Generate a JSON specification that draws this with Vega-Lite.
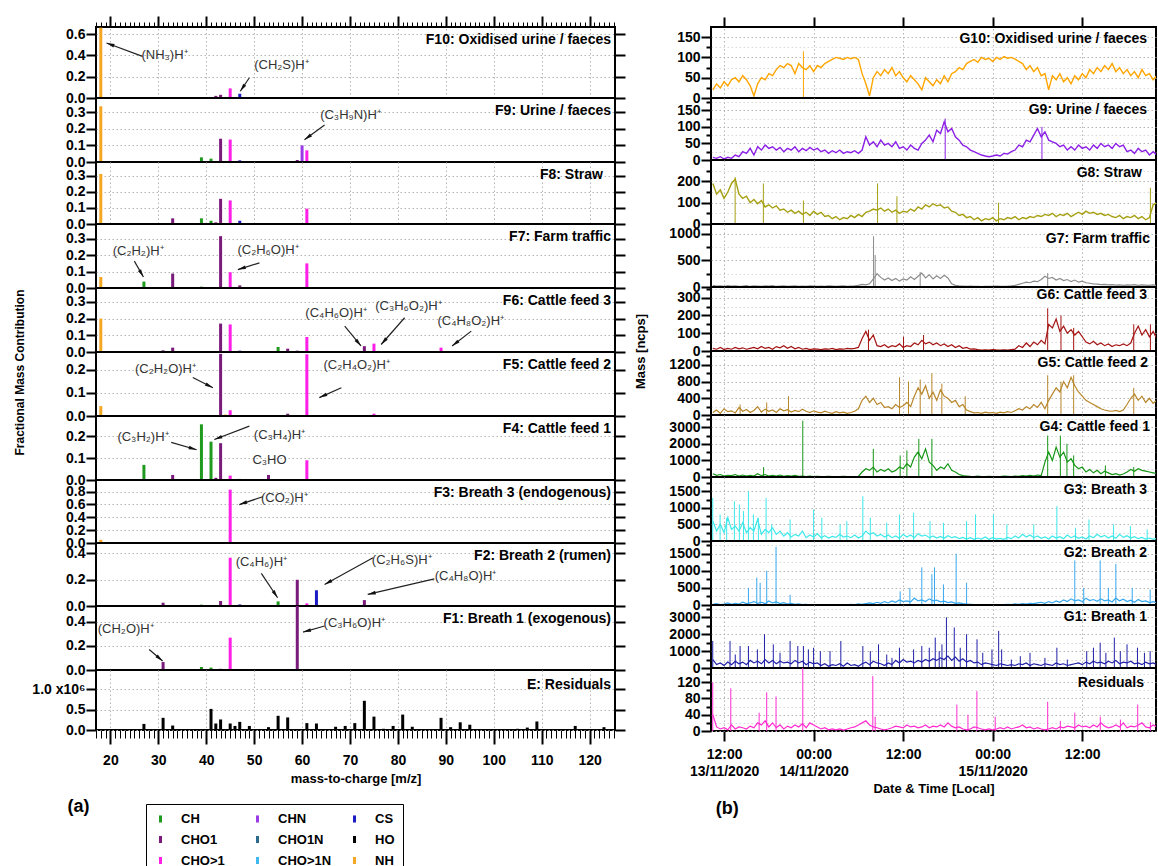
{
  "$schema": "https://vega.github.io/schema/vega-lite/v6.json",
  "background": "white",
  "padding": {"left": 12, "top": 14, "right": 0, "bottom": 0},
  "config": {
    "font": "Liberation Sans",
    "view": {"stroke": "black", "strokeWidth": 2},
    "axis": {
      "domain": false, "labelFont": "Liberation Sans", "labelFontSize": 14, "labelFontWeight": "bold",
      "labelColor": "#000", "tickColor": "#000", "tickWidth": 2, "tickSize": 10, "labelPadding": 1,
      "labelFlush": false, "labelOverlap": false, "gridColor": "#b4b4b4", "gridDash": [1.5, 2.5], "gridWidth": 1,
      "titleFont": "Liberation Sans", "titleFontWeight": "bold", "titleFontSize": 13, "titleColor": "#000"
    },
    "text": {"font": "Liberation Sans"}
  },
  "datasets": {
    "ms": [
      {"p":"F10","mz":18,"c":"NH","v":0.66},{"p":"F10","mz":39,"c":"CH","v":0.005},{"p":"F10","mz":42,"c":"CHO1","v":0.02},{"p":"F10","mz":43,"c":"CHO1","v":0.03},{"p":"F10","mz":45,"c":"CHO>1","v":0.09},{"p":"F10","mz":47,"c":"CS","v":0.04},{"p":"F10","mz":61,"c":"CHO>1","v":0.008},
      {"p":"F9","mz":18,"c":"NH","v":0.335},{"p":"F9","mz":39,"c":"CH","v":0.028},{"p":"F9","mz":41,"c":"CH","v":0.02},{"p":"F9","mz":43,"c":"CHO1","v":0.14},{"p":"F9","mz":45,"c":"CHO>1","v":0.135},{"p":"F9","mz":47,"c":"CS","v":0.01},{"p":"F9","mz":59,"c":"CHO1","v":0.012},{"p":"F9","mz":60,"c":"CHN","v":0.1},{"p":"F9","mz":61,"c":"CHO>1","v":0.07},
      {"p":"F8","mz":18,"c":"NH","v":0.31},{"p":"F8","mz":27,"c":"CH","v":0.004},{"p":"F8","mz":33,"c":"CHO1","v":0.035},{"p":"F8","mz":39,"c":"CH","v":0.035},{"p":"F8","mz":41,"c":"CH","v":0.02},{"p":"F8","mz":42,"c":"CHO1","v":0.01},{"p":"F8","mz":43,"c":"CHO1","v":0.156},{"p":"F8","mz":45,"c":"CHO>1","v":0.146},{"p":"F8","mz":47,"c":"CS","v":0.02},{"p":"F8","mz":59,"c":"CHO1","v":0.006},{"p":"F8","mz":61,"c":"CHO>1","v":0.095},
      {"p":"F7","mz":18,"c":"NH","v":0.067},{"p":"F7","mz":27,"c":"CH","v":0.039},{"p":"F7","mz":33,"c":"CHO1","v":0.088},{"p":"F7","mz":39,"c":"CH","v":0.008},{"p":"F7","mz":41,"c":"CH","v":0.004},{"p":"F7","mz":43,"c":"CHO1","v":0.316},{"p":"F7","mz":45,"c":"CHO>1","v":0.096},{"p":"F7","mz":47,"c":"CHO1","v":0.016},{"p":"F7","mz":59,"c":"CHO1","v":0.005},{"p":"F7","mz":61,"c":"CHO>1","v":0.15},
      {"p":"F6","mz":18,"c":"NH","v":0.2},{"p":"F6","mz":31,"c":"CHO1","v":0.01},{"p":"F6","mz":33,"c":"CHO1","v":0.026},{"p":"F6","mz":39,"c":"CH","v":0.004},{"p":"F6","mz":43,"c":"CHO1","v":0.17},{"p":"F6","mz":45,"c":"CHO>1","v":0.165},{"p":"F6","mz":47,"c":"CS","v":0.008},{"p":"F6","mz":55,"c":"CH","v":0.03},{"p":"F6","mz":57,"c":"CHO1","v":0.02},{"p":"F6","mz":59,"c":"CHO1","v":0.008},{"p":"F6","mz":61,"c":"CHO>1","v":0.09},{"p":"F6","mz":71,"c":"CHO1","v":0.005},{"p":"F6","mz":73,"c":"CHO1","v":0.035},{"p":"F6","mz":75,"c":"CHO>1","v":0.05},{"p":"F6","mz":89,"c":"CHO>1","v":0.026},
      {"p":"F5","mz":18,"c":"NH","v":0.043},{"p":"F5","mz":43,"c":"CHO1","v":0.27},{"p":"F5","mz":44,"c":"NH","v":0.006},{"p":"F5","mz":45,"c":"CHO>1","v":0.025},{"p":"F5","mz":57,"c":"CHO1","v":0.01},{"p":"F5","mz":61,"c":"CHO>1","v":0.268},{"p":"F5","mz":62,"c":"CHO1","v":0.003},{"p":"F5","mz":75,"c":"CHO>1","v":0.01},
      {"p":"F4","mz":27,"c":"CH","v":0.069},{"p":"F4","mz":33,"c":"CHO1","v":0.023},{"p":"F4","mz":39,"c":"CH","v":0.254},{"p":"F4","mz":41,"c":"CH","v":0.175},{"p":"F4","mz":42,"c":"CHO1","v":0.01},{"p":"F4","mz":43,"c":"CHO1","v":0.168},{"p":"F4","mz":45,"c":"CHO>1","v":0.02},{"p":"F4","mz":47,"c":"CHO1","v":0.005},{"p":"F4","mz":53,"c":"CHO1","v":0.023},{"p":"F4","mz":61,"c":"CHO>1","v":0.09},{"p":"F4","mz":75,"c":"CHO>1","v":0.004},
      {"p":"F3","mz":18,"c":"NH","v":0.05},{"p":"F3","mz":45,"c":"CHO>1","v":0.83},
      {"p":"F2","mz":31,"c":"CHO1","v":0.025},{"p":"F2","mz":39,"c":"CH","v":0.01},{"p":"F2","mz":43,"c":"CHO1","v":0.038},{"p":"F2","mz":45,"c":"CHO>1","v":0.368},{"p":"F2","mz":47,"c":"CS","v":0.012},{"p":"F2","mz":55,"c":"CH","v":0.035},{"p":"F2","mz":59,"c":"CHO1","v":0.2},{"p":"F2","mz":61,"c":"CHO>1","v":0.02},{"p":"F2","mz":63,"c":"CS","v":0.12},{"p":"F2","mz":73,"c":"CHO1","v":0.045},
      {"p":"F1","mz":31,"c":"CHO1","v":0.066},{"p":"F1","mz":39,"c":"CH","v":0.025},{"p":"F1","mz":41,"c":"CH","v":0.02},{"p":"F1","mz":43,"c":"CHO1","v":0.01},{"p":"F1","mz":45,"c":"CHO>1","v":0.268},{"p":"F1","mz":55,"c":"CH","v":0.004},{"p":"F1","mz":59,"c":"CHO1","v":0.6},{"p":"F1","mz":73,"c":"CHO1","v":0.004},
      {"p":"E","mz":27,"c":"HO","v":150000},{"p":"E","mz":31,"c":"HO","v":300000},{"p":"E","mz":33,"c":"HO","v":110000},{"p":"E","mz":38,"c":"HO","v":10000},{"p":"E","mz":41,"c":"HO","v":520000},{"p":"E","mz":42,"c":"HO","v":160000},{"p":"E","mz":43,"c":"HO","v":260000},{"p":"E","mz":45,"c":"HO","v":160000},{"p":"E","mz":46,"c":"HO","v":100000},{"p":"E","mz":47,"c":"HO","v":200000},{"p":"E","mz":49,"c":"HO","v":100000},{"p":"E","mz":53,"c":"HO","v":70000},{"p":"E","mz":55,"c":"HO","v":350000},{"p":"E","mz":57,"c":"HO","v":310000},{"p":"E","mz":61,"c":"HO","v":170000},{"p":"E","mz":63,"c":"HO","v":160000},{"p":"E","mz":67,"c":"HO","v":80000},{"p":"E","mz":69,"c":"HO","v":100000},{"p":"E","mz":71,"c":"HO","v":170000},{"p":"E","mz":73,"c":"HO","v":720000},{"p":"E","mz":75,"c":"HO","v":330000},{"p":"E","mz":77,"c":"HO","v":30000},{"p":"E","mz":79,"c":"HO","v":100000},{"p":"E","mz":81,"c":"HO","v":380000},{"p":"E","mz":83,"c":"HO","v":80000},{"p":"E","mz":89,"c":"HO","v":300000},{"p":"E","mz":91,"c":"HO","v":70000},{"p":"E","mz":93,"c":"HO","v":190000},{"p":"E","mz":95,"c":"HO","v":130000},{"p":"E","mz":105,"c":"HO","v":30000},{"p":"E","mz":107,"c":"HO","v":60000},{"p":"E","mz":109,"c":"HO","v":210000},{"p":"E","mz":117,"c":"HO","v":100000},{"p":"E","mz":123,"c":"HO","v":70000}
    ],
    "ann": [
      {"p":"F10","lab":"(NH₃)H⁺","tx":31.3,"ty":0.404,"x":26.7,"y":0.39,"x2":19.2,"y2":0.516},
      {"p":"F10","lab":"(CH₂S)H⁺","tx":55.7,"ty":0.31,"x":49,"y":0.19,"x2":47.1,"y2":0.063},
      {"p":"F9","lab":"(C₃H₉N)H⁺","tx":70.1,"ty":0.28,"x":64.7,"y":0.223,"x2":60.5,"y2":0.134},
      {"p":"F7","lab":"(C₂H₂)H⁺","tx":25.8,"ty":0.227,"x":25,"y":0.164,"x2":26.9,"y2":0.067},
      {"p":"F7","lab":"(C₂H₆O)H⁺","tx":52.9,"ty":0.233,"x":51.1,"y":0.153,"x2":46.6,"y2":0.112},
      {"p":"F6","lab":"(C₄H₆O)H⁺","tx":67.1,"ty":0.234,"x":68.9,"y":0.155,"x2":72.3,"y2":0.036},
      {"p":"F6","lab":"(C₃H₆O₂)H⁺","tx":82.2,"ty":0.276,"x":81.4,"y":0.205,"x2":76.5,"y2":0.045},
      {"p":"F6","lab":"(C₄H₈O₂)H⁺","tx":95.2,"ty":0.186,"x":95.3,"y":0.125,"x2":91.3,"y2":0.036},
      {"p":"F5","lab":"(C₂H₂O)H⁺","tx":31.5,"ty":0.206,"x":37.2,"y":0.167,"x2":41.4,"y2":0.123},
      {"p":"F5","lab":"(C₂H₄O₂)H⁺","tx":71.4,"ty":0.223,"x":68.2,"y":0.123,"x2":63.6,"y2":0.08},
      {"p":"F4","lab":"(C₃H₂)H⁺","tx":26.8,"ty":0.197,"x":32.7,"y":0.172,"x2":38,"y2":0.138},
      {"p":"F4","lab":"(C₃H₄)H⁺","tx":55.3,"ty":0.206,"x":49,"y":0.246,"x2":41.7,"y2":0.185},
      {"p":"F4","lab":"C₃HO","tx":53.2,"ty":0.09},
      {"p":"F3","lab":"(CO₂)H⁺","tx":56.3,"ty":0.7,"x":51.8,"y":0.72,"x2":46.9,"y2":0.597},
      {"p":"F2","lab":"(C₄H₆)H⁺","tx":51.5,"ty":0.337,"x":51.5,"y":0.248,"x2":54.9,"y2":0.063},
      {"p":"F2","lab":"(C₂H₆S)H⁺","tx":80.8,"ty":0.352,"x":74.8,"y":0.367,"x2":64.7,"y2":0.164},
      {"p":"F2","lab":"(C₄H₈O)H⁺","tx":94.1,"ty":0.23,"x":87.6,"y":0.207,"x2":73.7,"y2":0.088},
      {"p":"F1","lab":"(CH₂O)H⁺","tx":23.2,"ty":0.34,"x":28.1,"y":0.17,"x2":30.9,"y2":0.074},
      {"p":"F1","lab":"(C₃H₆O)H⁺","tx":70.9,"ty":0.39,"x":64.7,"y":0.364,"x2":60.2,"y2":0.314}
    ],
    "ts": [
      {"t":"2020-11-13T10:30","G10":20,"G9":8,"G8":190,"G7":30,"G6":15,"G5":60,"G4":200,"G3":600,"G2":20,"G1":500,"R":40},
      {"t":"2020-11-13T11:00","G10":35,"G9":5,"G8":140,"G7":15,"G6":10,"G5":120,"G4":100,"G3":300,"G2":40,"G1":200,"R":10},
      {"t":"2020-11-13T11:30","G10":25,"G9":10,"G8":160,"G7":20,"G6":20,"G5":40,"G4":150,"G3":500,"G2":15,"G1":300,"R":5},
      {"t":"2020-11-13T12:00","G10":40,"G9":3,"G8":120,"G7":10,"G6":8,"G5":150,"G4":50,"G3":250,"G2":30,"G1":150,"R":8},
      {"t":"2020-11-13T12:30","G10":30,"G9":8,"G8":150,"G7":25,"G6":15,"G5":80,"G4":100,"G3":700,"G2":60,"G1":350,"R":3},
      {"t":"2020-11-13T13:00","G10":45,"G9":5,"G8":190,"G7":15,"G6":10,"G5":100,"G4":80,"G3":350,"G2":20,"G1":200,"R":15},
      {"t":"2020-11-13T13:30","G10":50,"G9":15,"G8":210,"G7":20,"G6":20,"G5":50,"G4":150,"G3":450,"G2":50,"G1":400,"R":5},
      {"t":"2020-11-13T14:00","G10":40,"G9":10,"G8":140,"G7":10,"G6":12,"G5":180,"G4":60,"G3":300,"G2":30,"G1":250,"R":10},
      {"t":"2020-11-13T14:30","G10":55,"G9":25,"G8":120,"G7":15,"G6":18,"G5":90,"G4":120,"G3":550,"G2":80,"G1":350,"R":8},
      {"t":"2020-11-13T15:00","G10":45,"G9":20,"G8":130,"G7":25,"G6":10,"G5":130,"G4":50,"G3":250,"G2":40,"G1":200,"R":5},
      {"t":"2020-11-13T15:30","G10":30,"G9":35,"G8":100,"G7":10,"G6":15,"G5":60,"G4":100,"G3":400,"G2":60,"G1":450,"R":12},
      {"t":"2020-11-13T16:00","G10":5,"G9":15,"G8":115,"G7":20,"G6":20,"G5":110,"G4":60,"G3":300,"G2":100,"G1":300,"R":8},
      {"t":"2020-11-13T16:30","G10":35,"G9":40,"G8":95,"G7":15,"G6":12,"G5":200,"G4":200,"G3":650,"G2":50,"G1":400,"R":20},
      {"t":"2020-11-13T17:00","G10":50,"G9":30,"G8":110,"G7":10,"G6":25,"G5":70,"G4":80,"G3":200,"G2":80,"G1":250,"R":15},
      {"t":"2020-11-13T17:30","G10":45,"G9":45,"G8":80,"G7":20,"G6":15,"G5":140,"G4":150,"G3":350,"G2":40,"G1":500,"R":25},
      {"t":"2020-11-13T18:00","G10":60,"G9":35,"G8":90,"G7":15,"G6":20,"G5":90,"G4":60,"G3":250,"G2":120,"G1":300,"R":10},
      {"t":"2020-11-13T18:30","G10":55,"G9":40,"G8":75,"G7":25,"G6":10,"G5":120,"G4":100,"G3":400,"G2":60,"G1":450,"R":20},
      {"t":"2020-11-13T19:00","G10":70,"G9":30,"G8":85,"G7":10,"G6":25,"G5":60,"G4":50,"G3":200,"G2":90,"G1":250,"R":8},
      {"t":"2020-11-13T19:30","G10":80,"G9":38,"G8":65,"G7":15,"G6":18,"G5":150,"G4":120,"G3":300,"G2":40,"G1":400,"R":15},
      {"t":"2020-11-13T20:00","G10":75,"G9":25,"G8":70,"G7":20,"G6":30,"G5":100,"G4":40,"G3":150,"G2":70,"G1":300,"R":5},
      {"t":"2020-11-13T20:30","G10":85,"G9":35,"G8":55,"G7":10,"G6":15,"G5":130,"G4":80,"G3":250,"G2":30,"G1":350,"R":12},
      {"t":"2020-11-13T21:00","G10":80,"G9":30,"G8":65,"G7":15,"G6":25,"G5":70,"G4":60,"G3":120,"G2":50,"G1":250,"R":8},
      {"t":"2020-11-13T21:30","G10":60,"G9":40,"G8":50,"G7":20,"G6":12,"G5":110,"G4":100,"G3":200,"G2":20,"G1":450,"R":15},
      {"t":"2020-11-13T22:00","G10":85,"G9":25,"G8":60,"G7":10,"G6":20,"G5":80,"G4":40,"G3":150,"G2":30,"G1":300,"R":10},
      {"t":"2020-11-13T22:30","G10":75,"G9":35,"G8":45,"G7":15,"G6":10,"G5":140,"G4":60,"G3":300,"G2":10,"G1":400,"R":18},
      {"t":"2020-11-13T23:00","G10":70,"G9":28,"G8":55,"G7":10,"G6":15,"G5":90,"G4":30,"G3":100,"G2":20,"G1":200,"R":8},
      {"t":"2020-11-13T23:30","G10":80,"G9":38,"G8":40,"G7":20,"G6":8,"G5":60,"G4":50,"G3":180,"G2":5,"G1":350,"R":20},
      {"t":"2020-11-14T00:00","G10":65,"G9":30,"G8":60,"G7":15,"G6":12,"G5":100,"G4":20,"G3":120,"G2":15,"G1":250,"R":15},
      {"t":"2020-11-14T00:30","G10":80,"G9":35,"G8":45,"G7":10,"G6":10,"G5":70,"G4":40,"G3":220,"G2":5,"G1":300,"R":10},
      {"t":"2020-11-14T01:00","G10":75,"G9":25,"G8":55,"G7":15,"G6":8,"G5":50,"G4":30,"G3":100,"G2":10,"G1":150,"R":5},
      {"t":"2020-11-14T01:30","G10":85,"G9":30,"G8":35,"G7":10,"G6":12,"G5":90,"G4":20,"G3":160,"G2":5,"G1":250,"R":8},
      {"t":"2020-11-14T02:00","G10":90,"G9":20,"G8":40,"G7":20,"G6":10,"G5":60,"G4":40,"G3":90,"G2":10,"G1":100,"R":3},
      {"t":"2020-11-14T02:30","G10":95,"G9":28,"G8":25,"G7":15,"G6":15,"G5":40,"G4":20,"G3":140,"G2":5,"G1":200,"R":5},
      {"t":"2020-11-14T03:00","G10":100,"G9":22,"G8":35,"G7":10,"G6":8,"G5":80,"G4":30,"G3":110,"G2":15,"G1":150,"R":3},
      {"t":"2020-11-14T03:30","G10":98,"G9":30,"G8":20,"G7":15,"G6":12,"G5":50,"G4":20,"G3":200,"G2":5,"G1":250,"R":5},
      {"t":"2020-11-14T04:00","G10":95,"G9":20,"G8":30,"G7":20,"G6":10,"G5":70,"G4":40,"G3":120,"G2":10,"G1":100,"R":2},
      {"t":"2020-11-14T04:30","G10":100,"G9":25,"G8":25,"G7":10,"G6":15,"G5":40,"G4":20,"G3":150,"G2":5,"G1":300,"R":5},
      {"t":"2020-11-14T05:00","G10":97,"G9":22,"G8":40,"G7":15,"G6":12,"G5":60,"G4":30,"G3":100,"G2":20,"G1":150,"R":8},
      {"t":"2020-11-14T05:30","G10":100,"G9":28,"G8":30,"G7":20,"G6":15,"G5":90,"G4":20,"G3":180,"G2":10,"G1":200,"R":10},
      {"t":"2020-11-14T06:00","G10":95,"G9":20,"G8":45,"G7":30,"G6":20,"G5":150,"G4":40,"G3":90,"G2":30,"G1":100,"R":15},
      {"t":"2020-11-14T06:30","G10":60,"G9":30,"G8":35,"G7":50,"G6":70,"G5":350,"G4":300,"G3":150,"G2":20,"G1":250,"R":20},
      {"t":"2020-11-14T07:00","G10":35,"G9":70,"G8":55,"G7":40,"G6":110,"G5":450,"G4":500,"G3":300,"G2":40,"G1":350,"R":25},
      {"t":"2020-11-14T07:30","G10":5,"G9":45,"G8":60,"G7":60,"G6":60,"G5":300,"G4":400,"G3":200,"G2":60,"G1":200,"R":15},
      {"t":"2020-11-14T08:00","G10":50,"G9":55,"G8":70,"G7":150,"G6":90,"G5":400,"G4":600,"G3":250,"G2":40,"G1":400,"R":10},
      {"t":"2020-11-14T08:30","G10":65,"G9":40,"G8":65,"G7":250,"G6":30,"G5":250,"G4":300,"G3":150,"G2":80,"G1":300,"R":8},
      {"t":"2020-11-14T09:00","G10":55,"G9":60,"G8":75,"G7":180,"G6":25,"G5":300,"G4":450,"G3":200,"G2":50,"G1":250,"R":5},
      {"t":"2020-11-14T09:30","G10":70,"G9":45,"G8":60,"G7":130,"G6":35,"G5":180,"G4":350,"G3":120,"G2":100,"G1":150,"R":3},
      {"t":"2020-11-14T10:00","G10":60,"G9":50,"G8":70,"G7":170,"G6":20,"G5":200,"G4":500,"G3":180,"G2":60,"G1":300,"R":5},
      {"t":"2020-11-14T10:30","G10":75,"G9":40,"G8":55,"G7":120,"G6":30,"G5":150,"G4":300,"G3":100,"G2":120,"G1":200,"R":8},
      {"t":"2020-11-14T11:00","G10":55,"G9":55,"G8":65,"G7":160,"G6":25,"G5":250,"G4":400,"G3":150,"G2":80,"G1":450,"R":12},
      {"t":"2020-11-14T11:30","G10":65,"G9":35,"G8":50,"G7":110,"G6":40,"G5":180,"G4":600,"G3":80,"G2":150,"G1":300,"R":10},
      {"t":"2020-11-14T12:00","G10":50,"G9":40,"G8":60,"G7":150,"G6":20,"G5":220,"G4":500,"G3":200,"G2":100,"G1":500,"R":8},
      {"t":"2020-11-14T12:30","G10":40,"G9":30,"G8":55,"G7":130,"G6":30,"G5":300,"G4":800,"G3":120,"G2":120,"G1":350,"R":15},
      {"t":"2020-11-14T13:00","G10":55,"G9":45,"G8":70,"G7":190,"G6":25,"G5":200,"G4":600,"G3":180,"G2":90,"G1":400,"R":10},
      {"t":"2020-11-14T13:30","G10":45,"G9":35,"G8":60,"G7":140,"G6":45,"G5":450,"G4":1200,"G3":100,"G2":200,"G1":300,"R":12},
      {"t":"2020-11-14T14:00","G10":35,"G9":30,"G8":80,"G7":200,"G6":35,"G5":650,"G4":1500,"G3":220,"G2":120,"G1":450,"R":8},
      {"t":"2020-11-14T14:30","G10":20,"G9":50,"G8":70,"G7":260,"G6":60,"G5":500,"G4":1100,"G3":150,"G2":150,"G1":350,"R":10},
      {"t":"2020-11-14T15:00","G10":50,"G9":60,"G8":90,"G7":170,"G6":40,"G5":700,"G4":1700,"G3":180,"G2":100,"G1":500,"R":15},
      {"t":"2020-11-14T15:30","G10":40,"G9":75,"G8":80,"G7":230,"G6":50,"G5":400,"G4":900,"G3":100,"G2":180,"G1":400,"R":8},
      {"t":"2020-11-14T16:00","G10":30,"G9":55,"G8":95,"G7":150,"G6":35,"G5":550,"G4":700,"G3":150,"G2":120,"G1":550,"R":12},
      {"t":"2020-11-14T16:30","G10":45,"G9":90,"G8":85,"G7":210,"G6":45,"G5":350,"G4":400,"G3":90,"G2":140,"G1":450,"R":10},
      {"t":"2020-11-14T17:00","G10":35,"G9":80,"G8":90,"G7":160,"G6":30,"G5":600,"G4":600,"G3":140,"G2":90,"G1":600,"R":15},
      {"t":"2020-11-14T17:30","G10":55,"G9":115,"G8":75,"G7":220,"G6":40,"G5":450,"G4":500,"G3":80,"G2":110,"G1":500,"R":10},
      {"t":"2020-11-14T18:00","G10":40,"G9":85,"G8":80,"G7":170,"G6":25,"G5":400,"G4":800,"G3":160,"G2":70,"G1":700,"R":20},
      {"t":"2020-11-14T18:30","G10":60,"G9":95,"G8":60,"G7":60,"G6":35,"G5":300,"G4":400,"G3":100,"G2":90,"G1":450,"R":12},
      {"t":"2020-11-14T19:00","G10":65,"G9":70,"G8":55,"G7":30,"G6":20,"G5":350,"G4":300,"G3":130,"G2":50,"G1":650,"R":8},
      {"t":"2020-11-14T19:30","G10":75,"G9":60,"G8":40,"G7":20,"G6":30,"G5":200,"G4":150,"G3":70,"G2":60,"G1":400,"R":10},
      {"t":"2020-11-14T20:00","G10":70,"G9":45,"G8":45,"G7":15,"G6":15,"G5":250,"G4":80,"G3":110,"G2":40,"G1":550,"R":5},
      {"t":"2020-11-14T20:30","G10":85,"G9":40,"G8":30,"G7":10,"G6":20,"G5":120,"G4":60,"G3":60,"G2":30,"G1":350,"R":3},
      {"t":"2020-11-14T21:00","G10":90,"G9":30,"G8":35,"G7":15,"G6":10,"G5":80,"G4":40,"G3":100,"G2":20,"G1":450,"R":5},
      {"t":"2020-11-14T21:30","G10":95,"G9":25,"G8":20,"G7":10,"G6":12,"G5":50,"G4":30,"G3":50,"G2":10,"G1":300,"R":10},
      {"t":"2020-11-14T22:00","G10":88,"G9":20,"G8":30,"G7":12,"G6":8,"G5":60,"G4":50,"G3":90,"G2":15,"G1":350,"R":8},
      {"t":"2020-11-14T22:30","G10":100,"G9":15,"G8":15,"G7":8,"G6":5,"G5":40,"G4":30,"G3":60,"G2":5,"G1":200,"R":5},
      {"t":"2020-11-14T23:00","G10":95,"G9":12,"G8":25,"G7":10,"G6":7,"G5":70,"G4":20,"G3":120,"G2":10,"G1":300,"R":3},
      {"t":"2020-11-14T23:30","G10":98,"G9":10,"G8":20,"G7":12,"G6":5,"G5":50,"G4":40,"G3":50,"G2":5,"G1":250,"R":5},
      {"t":"2020-11-15T00:00","G10":90,"G9":12,"G8":30,"G7":10,"G6":8,"G5":60,"G4":30,"G3":100,"G2":10,"G1":200,"R":3},
      {"t":"2020-11-15T00:30","G10":100,"G9":15,"G8":15,"G7":15,"G6":6,"G5":40,"G4":20,"G3":60,"G2":5,"G1":150,"R":5},
      {"t":"2020-11-15T01:00","G10":95,"G9":12,"G8":25,"G7":10,"G6":5,"G5":70,"G4":30,"G3":80,"G2":15,"G1":250,"R":8},
      {"t":"2020-11-15T01:30","G10":102,"G9":20,"G8":20,"G7":12,"G6":7,"G5":50,"G4":50,"G3":50,"G2":10,"G1":200,"R":5},
      {"t":"2020-11-15T02:00","G10":98,"G9":18,"G8":30,"G7":15,"G6":5,"G5":80,"G4":40,"G3":110,"G2":20,"G1":150,"R":10},
      {"t":"2020-11-15T02:30","G10":100,"G9":25,"G8":25,"G7":20,"G6":8,"G5":60,"G4":30,"G3":70,"G2":15,"G1":200,"R":5},
      {"t":"2020-11-15T03:00","G10":96,"G9":30,"G8":35,"G7":30,"G6":10,"G5":100,"G4":60,"G3":150,"G2":30,"G1":150,"R":8},
      {"t":"2020-11-15T03:30","G10":90,"G9":45,"G8":20,"G7":50,"G6":30,"G5":150,"G4":40,"G3":90,"G2":20,"G1":250,"R":10},
      {"t":"2020-11-15T04:00","G10":85,"G9":40,"G8":30,"G7":70,"G6":20,"G5":120,"G4":80,"G3":200,"G2":40,"G1":200,"R":15},
      {"t":"2020-11-15T04:30","G10":70,"G9":60,"G8":25,"G7":90,"G6":45,"G5":200,"G4":50,"G3":120,"G2":30,"G1":300,"R":8},
      {"t":"2020-11-15T05:00","G10":80,"G9":55,"G8":35,"G7":80,"G6":25,"G5":150,"G4":100,"G3":180,"G2":50,"G1":150,"R":10},
      {"t":"2020-11-15T05:30","G10":65,"G9":75,"G8":30,"G7":110,"G6":50,"G5":250,"G4":60,"G3":100,"G2":40,"G1":250,"R":5},
      {"t":"2020-11-15T06:00","G10":75,"G9":95,"G8":40,"G7":100,"G6":35,"G5":180,"G4":120,"G3":150,"G2":60,"G1":200,"R":8},
      {"t":"2020-11-15T06:30","G10":55,"G9":70,"G8":35,"G7":140,"G6":60,"G5":300,"G4":80,"G3":80,"G2":80,"G1":150,"R":5},
      {"t":"2020-11-15T07:00","G10":60,"G9":85,"G8":45,"G7":200,"G6":40,"G5":150,"G4":900,"G3":120,"G2":50,"G1":250,"R":3},
      {"t":"2020-11-15T07:30","G10":20,"G9":60,"G8":40,"G7":160,"G6":150,"G5":350,"G4":1500,"G3":60,"G2":100,"G1":200,"R":5},
      {"t":"2020-11-15T08:00","G10":55,"G9":55,"G8":50,"G7":180,"G6":130,"G5":500,"G4":1000,"G3":150,"G2":60,"G1":150,"R":8},
      {"t":"2020-11-15T08:30","G10":45,"G9":50,"G8":35,"G7":130,"G6":180,"G5":650,"G4":1800,"G3":90,"G2":120,"G1":300,"R":5},
      {"t":"2020-11-15T09:00","G10":60,"G9":40,"G8":45,"G7":160,"G6":110,"G5":550,"G4":1200,"G3":130,"G2":80,"G1":200,"R":10},
      {"t":"2020-11-15T09:30","G10":40,"G9":45,"G8":40,"G7":120,"G6":140,"G5":800,"G4":1500,"G3":70,"G2":150,"G1":250,"R":8},
      {"t":"2020-11-15T10:00","G10":50,"G9":30,"G8":50,"G7":140,"G6":100,"G5":650,"G4":900,"G3":180,"G2":100,"G1":150,"R":12},
      {"t":"2020-11-15T10:30","G10":35,"G9":40,"G8":35,"G7":100,"G6":120,"G5":900,"G4":1100,"G3":100,"G2":180,"G1":200,"R":10},
      {"t":"2020-11-15T11:00","G10":55,"G9":30,"G8":45,"G7":130,"G6":90,"G5":700,"G4":700,"G3":150,"G2":120,"G1":250,"R":8},
      {"t":"2020-11-15T11:30","G10":45,"G9":45,"G8":55,"G7":90,"G6":110,"G5":550,"G4":500,"G3":80,"G2":150,"G1":300,"R":15},
      {"t":"2020-11-15T12:00","G10":60,"G9":35,"G8":45,"G7":110,"G6":80,"G5":450,"G4":600,"G3":120,"G2":100,"G1":200,"R":10},
      {"t":"2020-11-15T12:30","G10":50,"G9":40,"G8":60,"G7":80,"G6":50,"G5":350,"G4":300,"G3":60,"G2":200,"G1":350,"R":12},
      {"t":"2020-11-15T13:00","G10":70,"G9":30,"G8":50,"G7":70,"G6":40,"G5":300,"G4":450,"G3":150,"G2":130,"G1":250,"R":8},
      {"t":"2020-11-15T13:30","G10":60,"G9":45,"G8":55,"G7":60,"G6":55,"G5":250,"G4":250,"G3":100,"G2":160,"G1":400,"R":15},
      {"t":"2020-11-15T14:00","G10":75,"G9":35,"G8":45,"G7":55,"G6":35,"G5":200,"G4":400,"G3":200,"G2":110,"G1":300,"R":10},
      {"t":"2020-11-15T14:30","G10":65,"G9":50,"G8":50,"G7":45,"G6":45,"G5":150,"G4":200,"G3":120,"G2":180,"G1":350,"R":20},
      {"t":"2020-11-15T15:00","G10":80,"G9":40,"G8":40,"G7":50,"G6":30,"G5":120,"G4":350,"G3":170,"G2":120,"G1":250,"R":12},
      {"t":"2020-11-15T15:30","G10":70,"G9":45,"G8":45,"G7":40,"G6":40,"G5":100,"G4":250,"G3":90,"G2":150,"G1":400,"R":8},
      {"t":"2020-11-15T16:00","G10":85,"G9":35,"G8":35,"G7":45,"G6":25,"G5":90,"G4":150,"G3":150,"G2":90,"G1":300,"R":10},
      {"t":"2020-11-15T16:30","G10":65,"G9":50,"G8":30,"G7":35,"G6":35,"G5":110,"G4":200,"G3":80,"G2":200,"G1":450,"R":15},
      {"t":"2020-11-15T17:00","G10":75,"G9":40,"G8":40,"G7":40,"G6":30,"G5":80,"G4":120,"G3":200,"G2":120,"G1":250,"R":10},
      {"t":"2020-11-15T17:30","G10":60,"G9":45,"G8":25,"G7":30,"G6":40,"G5":120,"G4":180,"G3":110,"G2":170,"G1":350,"R":20},
      {"t":"2020-11-15T18:00","G10":70,"G9":25,"G8":35,"G7":40,"G6":30,"G5":250,"G4":300,"G3":160,"G2":100,"G1":300,"R":8},
      {"t":"2020-11-15T18:30","G10":55,"G9":30,"G8":30,"G7":35,"G6":45,"G5":400,"G4":450,"G3":90,"G2":140,"G1":400,"R":12},
      {"t":"2020-11-15T19:00","G10":65,"G9":20,"G8":40,"G7":45,"G6":100,"G5":500,"G4":350,"G3":130,"G2":80,"G1":250,"R":10},
      {"t":"2020-11-15T19:30","G10":50,"G9":35,"G8":25,"G7":30,"G6":140,"G5":350,"G4":500,"G3":70,"G2":160,"G1":300,"R":15},
      {"t":"2020-11-15T20:00","G10":70,"G9":25,"G8":35,"G7":40,"G6":90,"G5":450,"G4":400,"G3":110,"G2":100,"G1":200,"R":20},
      {"t":"2020-11-15T20:30","G10":55,"G9":30,"G8":20,"G7":35,"G6":120,"G5":300,"G4":350,"G3":60,"G2":120,"G1":350,"R":10},
      {"t":"2020-11-15T21:00","G10":60,"G9":15,"G8":30,"G7":30,"G6":80,"G5":400,"G4":300,"G3":90,"G2":70,"G1":250,"R":8},
      {"t":"2020-11-15T21:30","G10":45,"G9":25,"G8":90,"G7":40,"G6":110,"G5":280,"G4":250,"G3":50,"G2":100,"G1":300,"R":15},
      {"t":"2020-11-15T22:00","G10":55,"G9":15,"G8":100,"G7":30,"G6":70,"G5":350,"G4":200,"G3":80,"G2":60,"G1":200,"R":10}
    ],
    "spk": [
      {"s":"G1","t":"2020-11-13T10:29","v":1600},{"s":"G1","t":"2020-11-13T12:48","v":1600},{"s":"G1","t":"2020-11-13T13:30","v":800},{"s":"G1","t":"2020-11-13T14:09","v":1300},{"s":"G1","t":"2020-11-13T15:16","v":1300},{"s":"G1","t":"2020-11-13T16:28","v":1100},{"s":"G1","t":"2020-11-13T17:25","v":2000},{"s":"G1","t":"2020-11-13T18:36","v":1400},{"s":"G1","t":"2020-11-13T19:30","v":900},{"s":"G1","t":"2020-11-13T20:51","v":1600},{"s":"G1","t":"2020-11-13T21:53","v":1300},{"s":"G1","t":"2020-11-13T22:38","v":1300},{"s":"G1","t":"2020-11-13T23:18","v":1100},{"s":"G1","t":"2020-11-14T00:00","v":1200},{"s":"G1","t":"2020-11-14T00:54","v":1000},{"s":"G1","t":"2020-11-14T02:12","v":1000},{"s":"G1","t":"2020-11-14T03:39","v":1600},{"s":"G1","t":"2020-11-14T06:36","v":1300},{"s":"G1","t":"2020-11-14T07:36","v":1000},{"s":"G1","t":"2020-11-14T08:42","v":1400},{"s":"G1","t":"2020-11-14T09:48","v":800},{"s":"G1","t":"2020-11-14T10:30","v":600},{"s":"G1","t":"2020-11-14T11:30","v":1200},{"s":"G1","t":"2020-11-14T13:24","v":1100},{"s":"G1","t":"2020-11-14T14:30","v":1300},{"s":"G1","t":"2020-11-14T15:30","v":1200},{"s":"G1","t":"2020-11-14T16:18","v":1800},{"s":"G1","t":"2020-11-14T16:50","v":1000},{"s":"G1","t":"2020-11-14T17:12","v":1400},{"s":"G1","t":"2020-11-14T17:48","v":3000},{"s":"G1","t":"2020-11-14T18:51","v":2400},{"s":"G1","t":"2020-11-14T19:39","v":1200},{"s":"G1","t":"2020-11-14T20:30","v":2000},{"s":"G1","t":"2020-11-14T21:54","v":1700},{"s":"G1","t":"2020-11-14T22:40","v":900},{"s":"G1","t":"2020-11-14T23:54","v":1100},{"s":"G1","t":"2020-11-15T00:48","v":2200},{"s":"G1","t":"2020-11-15T01:12","v":1100},{"s":"G1","t":"2020-11-15T02:30","v":500},{"s":"G1","t":"2020-11-15T03:42","v":700},{"s":"G1","t":"2020-11-15T05:00","v":900},{"s":"G1","t":"2020-11-15T07:00","v":600},{"s":"G1","t":"2020-11-15T08:36","v":1200},{"s":"G1","t":"2020-11-15T10:00","v":500},{"s":"G1","t":"2020-11-15T12:36","v":1000},{"s":"G1","t":"2020-11-15T13:30","v":1200},{"s":"G1","t":"2020-11-15T14:24","v":1500},{"s":"G1","t":"2020-11-15T15:10","v":900},{"s":"G1","t":"2020-11-15T16:18","v":1800},{"s":"G1","t":"2020-11-15T17:06","v":1000},{"s":"G1","t":"2020-11-15T18:00","v":1400},{"s":"G1","t":"2020-11-15T19:24","v":1200},{"s":"G1","t":"2020-11-15T20:20","v":900},{"s":"G1","t":"2020-11-15T21:06","v":1000},
      {"s":"G2","t":"2020-11-13T15:16","v":500},{"s":"G2","t":"2020-11-13T16:23","v":800},{"s":"G2","t":"2020-11-13T16:50","v":650},{"s":"G2","t":"2020-11-13T17:43","v":1000},{"s":"G2","t":"2020-11-13T18:58","v":1700},{"s":"G2","t":"2020-11-13T20:51","v":300},{"s":"G2","t":"2020-11-14T11:36","v":400},{"s":"G2","t":"2020-11-14T12:54","v":500},{"s":"G2","t":"2020-11-14T14:30","v":1100},{"s":"G2","t":"2020-11-14T15:51","v":900},{"s":"G2","t":"2020-11-14T16:12","v":1100},{"s":"G2","t":"2020-11-14T17:24","v":600},{"s":"G2","t":"2020-11-14T19:06","v":1500},{"s":"G2","t":"2020-11-14T20:30","v":650},{"s":"G2","t":"2020-11-15T11:00","v":1300},{"s":"G2","t":"2020-11-15T12:12","v":500},{"s":"G2","t":"2020-11-15T14:24","v":1300},{"s":"G2","t":"2020-11-15T15:30","v":500},{"s":"G2","t":"2020-11-15T16:30","v":1200},{"s":"G2","t":"2020-11-15T18:42","v":500},{"s":"G2","t":"2020-11-15T21:06","v":450},
      {"s":"G3","t":"2020-11-13T10:29","v":1300},{"s":"G3","t":"2020-11-13T11:28","v":800},{"s":"G3","t":"2020-11-13T12:21","v":700},{"s":"G3","t":"2020-11-13T13:23","v":1200},{"s":"G3","t":"2020-11-13T14:03","v":1100},{"s":"G3","t":"2020-11-13T14:36","v":900},{"s":"G3","t":"2020-11-13T15:16","v":1500},{"s":"G3","t":"2020-11-13T15:56","v":800},{"s":"G3","t":"2020-11-13T16:36","v":700},{"s":"G3","t":"2020-11-13T17:38","v":1300},{"s":"G3","t":"2020-11-13T18:23","v":500},{"s":"G3","t":"2020-11-13T20:51","v":650},{"s":"G3","t":"2020-11-14T00:00","v":950},{"s":"G3","t":"2020-11-14T01:06","v":700},{"s":"G3","t":"2020-11-14T03:33","v":500},{"s":"G3","t":"2020-11-14T04:27","v":600},{"s":"G3","t":"2020-11-14T06:36","v":1350},{"s":"G3","t":"2020-11-14T07:36","v":700},{"s":"G3","t":"2020-11-14T09:48","v":550},{"s":"G3","t":"2020-11-14T11:30","v":800},{"s":"G3","t":"2020-11-14T13:24","v":850},{"s":"G3","t":"2020-11-14T15:36","v":600},{"s":"G3","t":"2020-11-14T17:24","v":550},{"s":"G3","t":"2020-11-14T20:30","v":600},{"s":"G3","t":"2020-11-14T21:42","v":800},{"s":"G3","t":"2020-11-15T00:06","v":800},{"s":"G3","t":"2020-11-15T01:54","v":500},{"s":"G3","t":"2020-11-15T05:30","v":500},{"s":"G3","t":"2020-11-15T08:36","v":1050},{"s":"G3","t":"2020-11-15T11:06","v":400},{"s":"G3","t":"2020-11-15T12:54","v":650},{"s":"G3","t":"2020-11-15T16:12","v":500},{"s":"G3","t":"2020-11-15T18:27","v":450},{"s":"G3","t":"2020-11-15T20:42","v":350},
      {"s":"G4","t":"2020-11-13T17:18","v":600},{"s":"G4","t":"2020-11-13T22:33","v":3400},{"s":"G4","t":"2020-11-14T08:00","v":1700},{"s":"G4","t":"2020-11-14T11:36","v":1300},{"s":"G4","t":"2020-11-14T12:30","v":1600},{"s":"G4","t":"2020-11-14T14:06","v":2300},{"s":"G4","t":"2020-11-14T15:51","v":2300},{"s":"G4","t":"2020-11-15T07:22","v":2500},{"s":"G4","t":"2020-11-15T09:04","v":2500},{"s":"G4","t":"2020-11-15T09:57","v":2000},{"s":"G4","t":"2020-11-15T10:51","v":1300},{"s":"G4","t":"2020-11-15T15:06","v":700},{"s":"G4","t":"2020-11-15T18:54","v":600},
      {"s":"G5","t":"2020-11-13T14:09","v":250},{"s":"G5","t":"2020-11-13T17:43","v":300},{"s":"G5","t":"2020-11-13T20:38","v":450},{"s":"G5","t":"2020-11-14T11:31","v":900},{"s":"G5","t":"2020-11-14T12:43","v":800},{"s":"G5","t":"2020-11-14T14:17","v":850},{"s":"G5","t":"2020-11-14T15:51","v":1000},{"s":"G5","t":"2020-11-14T17:11","v":750},{"s":"G5","t":"2020-11-14T20:19","v":450},{"s":"G5","t":"2020-11-15T07:22","v":950},{"s":"G5","t":"2020-11-15T09:09","v":800},{"s":"G5","t":"2020-11-15T10:51","v":950},{"s":"G5","t":"2020-11-15T18:54","v":650},
      {"s":"G6","t":"2020-11-14T07:21","v":120},{"s":"G6","t":"2020-11-14T12:03","v":80},{"s":"G6","t":"2020-11-14T14:44","v":90},{"s":"G6","t":"2020-11-15T07:22","v":240},{"s":"G6","t":"2020-11-15T09:09","v":200},{"s":"G6","t":"2020-11-15T10:51","v":130},{"s":"G6","t":"2020-11-15T18:54","v":150},{"s":"G6","t":"2020-11-15T21:08","v":150},
      {"s":"G7","t":"2020-11-14T08:02","v":950},{"s":"G7","t":"2020-11-14T08:15","v":600},{"s":"G7","t":"2020-11-14T14:17","v":280},{"s":"G7","t":"2020-11-15T07:22","v":260},
      {"s":"G8","t":"2020-11-13T13:29","v":220},{"s":"G8","t":"2020-11-13T17:16","v":190},{"s":"G8","t":"2020-11-13T22:38","v":110},{"s":"G8","t":"2020-11-14T08:34","v":190},{"s":"G8","t":"2020-11-14T11:10","v":130},{"s":"G8","t":"2020-11-15T00:47","v":100},{"s":"G8","t":"2020-11-15T21:08","v":170},
      {"s":"G9","t":"2020-11-14T17:38","v":125},{"s":"G9","t":"2020-11-15T06:36","v":100},
      {"s":"G10","t":"2020-11-13T22:38","v":115},
      {"s":"R","t":"2020-11-13T10:29","v":120},{"s":"R","t":"2020-11-13T12:54","v":105},{"s":"R","t":"2020-11-13T16:42","v":45},{"s":"R","t":"2020-11-13T17:43","v":95},{"s":"R","t":"2020-11-13T18:58","v":85},{"s":"R","t":"2020-11-13T22:33","v":155},{"s":"R","t":"2020-11-14T07:56","v":135},{"s":"R","t":"2020-11-14T08:15","v":35},{"s":"R","t":"2020-11-14T19:12","v":65},{"s":"R","t":"2020-11-14T20:41","v":40},{"s":"R","t":"2020-11-14T21:53","v":98},{"s":"R","t":"2020-11-15T00:20","v":35},{"s":"R","t":"2020-11-15T07:22","v":72},{"s":"R","t":"2020-11-15T09:04","v":25},{"s":"R","t":"2020-11-15T11:00","v":45},{"s":"R","t":"2020-11-15T14:25","v":35},{"s":"R","t":"2020-11-15T17:07","v":28},{"s":"R","t":"2020-11-15T19:26","v":65},{"s":"R","t":"2020-11-15T21:08","v":22}
    ]
  },
  "resolve": {"scale": {"x": "independent", "y": "independent", "color": "shared"}},
  "spacing": 6,
  "hconcat": [
    {
      "spacing": 0,
      "bounds": "flush",
      "resolve": {"scale": {"x": "independent", "y": "independent", "color": "shared"}},
      "title": {"text": "(a)", "orient": "bottom", "anchor": "start", "fontSize": 18, "fontWeight": "bold", "font": "Liberation Sans", "dx": 55, "offset": 12},
      "vconcat": [
        {
          "width": 519, "height": 71,
          "resolve": {"axis": {"x": "independent", "y": "independent"}},
          "layer": [
            {"data": {"name": "ms"}, "transform": [{"filter": "datum.p === 'F10'"}],
             "mark": {"type": "rule", "strokeWidth": 3, "clip": true},
             "encoding": {
               "x": {"field": "mz", "type": "quantitative", "scale": {"domain": [17, 125.3], "nice": false, "zero": false},
                     "axis": {"orient": "top", "values": [20,30,40,50,60,70,80,90,100,110,120], "labels": false, "title": null, "grid": true, "tickSize": 11}},
               "y": {"field": "v", "type": "quantitative", "scale": {"domain": [0, 0.666], "nice": false}, "axis": {"values": [0, 0.2, 0.4, 0.6], "format": ".1f", "title": null, "grid": true}},
               "y2": {"datum": 0},
               "color": {"field": "c", "type": "nominal",
                         "scale": {"domain": ["CH","CHO1","CHO>1","CHN","CHO1N","CHO>1N","CS","HO","NH"], "range": ["#1f9a1f","#7a1a7a","#ff1fe6","#9b3be8","#2b6a8c","#3fb8f0","#1c1cc4","#000000","#f5a623"]},
                         "legend": {"orient": "none", "legendX": 50, "legendY": 777, "title": null, "columns": 3, "gridAlign": "all", "columnPadding": 16, "rowPadding": 0,
                                    "symbolType": "M0,-1L0,1", "symbolSize": 50, "symbolStrokeWidth": 3, "labelFontSize": 13, "labelFontWeight": "bold", "labelFont": "Liberation Sans", "labelColor": "#000", "labelOffset": 14,
                                    "strokeColor": "#000", "padding": 8}}
             }},
            {"data": {"values": [{}]},
             "mark": {"type": "text", "align": "right", "baseline": "middle", "dx": -4, "dy": 13, "fontWeight": "bold", "fontSize": 14},
             "encoding": {"x": {"datum": 125.3, "type": "quantitative", "axis": {"orient": "top", "values": [17,18,19,20,21,22,23,24,25,26,27,28,29,30,31,32,33,34,35,36,37,38,39,40,41,42,43,44,45,46,47,48,49,50,51,52,53,54,55,56,57,58,59,60,61,62,63,64,65,66,67,68,69,70,71,72,73,74,75,76,77,78,79,80,81,82,83,84,85,86,87,88,89,90,91,92,93,94,95,96,97,98,99,100,101,102,103,104,105,106,107,108,109,110,111,112,113,114,115,116,117,118,119,120,121,122,123,124,125], "labels": false, "title": null, "grid": false, "tickSize": 5, "tickWidth": 1}},
                          "y": {"datum": 0.666, "type": "quantitative", "axis": {"orient": "right", "values": [0, 0.2, 0.4, 0.6], "labels": false, "grid": false, "title": null}},
                          "text": {"value": "F10: Oxidised urine / faeces"}}},
            {"data": {"name": "ann"}, "transform": [{"filter": "datum.p === 'F10'"}],
             "layer": [
               {"mark": {"type": "text", "fontSize": 13, "color": "#333"}, "encoding": {"x": {"field": "tx", "type": "quantitative", "axis": null}, "y": {"field": "ty", "type": "quantitative", "axis": null}, "text": {"field": "lab", "type": "nominal"}}},
               {"transform": [{"filter": "isValid(datum.x)"}], "mark": {"type": "rule", "color": "#222", "strokeWidth": 1.2}, "encoding": {"x": {"field": "x", "type": "quantitative", "axis": null}, "y": {"field": "y", "type": "quantitative", "axis": null}, "x2": {"field": "x2"}, "y2": {"field": "y2"}}},
               {"transform": [{"filter": "isValid(datum.x)"}, {"calculate": "atan2((datum.x2 - datum.x) * 4.79, (datum.y2 - datum.y) * 106.6) * 180 / PI", "as": "ang"}], "mark": {"type": "point", "shape": "M0,0L0.45,2L-0.45,2Z", "filled": true, "color": "#111", "size": 64, "opacity": 1}, "encoding": {"x": {"field": "x2", "type": "quantitative", "axis": null}, "y": {"field": "y2", "type": "quantitative", "axis": null}, "angle": {"field": "ang", "type": "quantitative", "scale": null}}}
             ]}
          ]
        },
        {
          "width": 519, "height": 64,
          "resolve": {"axis": {"y": "independent"}},
          "layer": [
            {"data": {"name": "ms"}, "transform": [{"filter": "datum.p === 'F9'"}],
             "mark": {"type": "rule", "strokeWidth": 3, "clip": true},
             "encoding": {
               "x": {"field": "mz", "type": "quantitative", "scale": {"domain": [17, 125.3], "nice": false, "zero": false}, "axis": {"values": [20,30,40,50,60,70,80,90,100,110,120], "labels": false, "ticks": false, "grid": true, "title": null}},
               "y": {"field": "v", "type": "quantitative", "scale": {"domain": [0, 0.385], "nice": false}, "axis": {"values": [0, 0.1, 0.2, 0.3], "format": ".1f", "title": null, "grid": true}},
               "y2": {"datum": 0},
               "color": {"field": "c", "type": "nominal", "scale": {"domain": ["CH","CHO1","CHO>1","CHN","CHO1N","CHO>1N","CS","HO","NH"], "range": ["#1f9a1f","#7a1a7a","#ff1fe6","#9b3be8","#2b6a8c","#3fb8f0","#1c1cc4","#000000","#f5a623"]}, "legend": null}
             }},
            {"data": {"values": [{}]},
             "mark": {"type": "text", "align": "right", "baseline": "middle", "dx": -4, "dy": 13, "fontWeight": "bold", "fontSize": 14},
             "encoding": {"x": {"datum": 125.3, "type": "quantitative"},
                          "y": {"datum": 0.385, "type": "quantitative", "axis": {"orient": "right", "values": [0, 0.1, 0.2, 0.3], "labels": false, "grid": false, "title": null}},
                          "text": {"value": "F9: Urine / faeces"}}},
            {"data": {"name": "ann"}, "transform": [{"filter": "datum.p === 'F9'"}],
             "layer": [
               {"mark": {"type": "text", "fontSize": 13, "color": "#333"}, "encoding": {"x": {"field": "tx", "type": "quantitative", "axis": null}, "y": {"field": "ty", "type": "quantitative", "axis": null}, "text": {"field": "lab", "type": "nominal"}}},
               {"transform": [{"filter": "isValid(datum.x)"}], "mark": {"type": "rule", "color": "#222", "strokeWidth": 1.2}, "encoding": {"x": {"field": "x", "type": "quantitative", "axis": null}, "y": {"field": "y", "type": "quantitative", "axis": null}, "x2": {"field": "x2"}, "y2": {"field": "y2"}}},
               {"transform": [{"filter": "isValid(datum.x)"}, {"calculate": "atan2((datum.x2 - datum.x) * 4.79, (datum.y2 - datum.y) * 166) * 180 / PI", "as": "ang"}], "mark": {"type": "point", "shape": "M0,0L0.45,2L-0.45,2Z", "filled": true, "color": "#111", "size": 64, "opacity": 1}, "encoding": {"x": {"field": "x2", "type": "quantitative", "axis": null}, "y": {"field": "y2", "type": "quantitative", "axis": null}, "angle": {"field": "ang", "type": "quantitative", "scale": null}}}
             ]}
          ]
        },
        {
          "width": 519, "height": 62,
          "resolve": {"axis": {"y": "independent"}},
          "layer": [
            {"data": {"name": "ms"}, "transform": [{"filter": "datum.p === 'F8'"}],
             "mark": {"type": "rule", "strokeWidth": 3, "clip": true},
             "encoding": {
               "x": {"field": "mz", "type": "quantitative", "scale": {"domain": [17, 125.3], "nice": false, "zero": false}, "axis": {"values": [20,30,40,50,60,70,80,90,100,110,120], "labels": false, "ticks": false, "grid": true, "title": null}},
               "y": {"field": "v", "type": "quantitative", "scale": {"domain": [0, 0.384], "nice": false}, "axis": {"values": [0, 0.1, 0.2, 0.3], "format": ".1f", "title": null, "grid": true}},
               "y2": {"datum": 0},
               "color": {"field": "c", "type": "nominal", "scale": {"domain": ["CH","CHO1","CHO>1","CHN","CHO1N","CHO>1N","CS","HO","NH"], "range": ["#1f9a1f","#7a1a7a","#ff1fe6","#9b3be8","#2b6a8c","#3fb8f0","#1c1cc4","#000000","#f5a623"]}, "legend": null}
             }},
            {"data": {"values": [{}]},
             "mark": {"type": "text", "align": "right", "baseline": "middle", "dx": -12, "dy": 13, "fontWeight": "bold", "fontSize": 14},
             "encoding": {"x": {"datum": 125.3, "type": "quantitative"},
                          "y": {"datum": 0.384, "type": "quantitative", "axis": {"orient": "right", "values": [0, 0.1, 0.2, 0.3], "labels": false, "grid": false, "title": null}},
                          "text": {"value": "F8: Straw"}}}
          ]
        },
        {
          "width": 519, "height": 64,
          "resolve": {"axis": {"y": "independent"}},
          "layer": [
            {"data": {"name": "ms"}, "transform": [{"filter": "datum.p === 'F7'"}],
             "mark": {"type": "rule", "strokeWidth": 3, "clip": true},
             "encoding": {
               "x": {"field": "mz", "type": "quantitative", "scale": {"domain": [17, 125.3], "nice": false, "zero": false}, "axis": {"values": [20,30,40,50,60,70,80,90,100,110,120], "labels": false, "ticks": false, "grid": true, "title": null}},
               "y": {"field": "v", "type": "quantitative", "scale": {"domain": [0, 0.39], "nice": false}, "axis": {"values": [0, 0.1, 0.2, 0.3], "format": ".1f", "title": null, "grid": true}},
               "y2": {"datum": 0},
               "color": {"field": "c", "type": "nominal", "scale": {"domain": ["CH","CHO1","CHO>1","CHN","CHO1N","CHO>1N","CS","HO","NH"], "range": ["#1f9a1f","#7a1a7a","#ff1fe6","#9b3be8","#2b6a8c","#3fb8f0","#1c1cc4","#000000","#f5a623"]}, "legend": null}
             }},
            {"data": {"values": [{}]},
             "mark": {"type": "text", "align": "right", "baseline": "middle", "dx": -4, "dy": 13, "fontWeight": "bold", "fontSize": 14},
             "encoding": {"x": {"datum": 125.3, "type": "quantitative"},
                          "y": {"datum": 0.39, "type": "quantitative", "axis": {"orient": "right", "values": [0, 0.1, 0.2, 0.3], "labels": false, "grid": false, "title": null}},
                          "text": {"value": "F7: Farm traffic"}}},
            {"data": {"name": "ann"}, "transform": [{"filter": "datum.p === 'F7'"}],
             "layer": [
               {"mark": {"type": "text", "fontSize": 13, "color": "#333"}, "encoding": {"x": {"field": "tx", "type": "quantitative", "axis": null}, "y": {"field": "ty", "type": "quantitative", "axis": null}, "text": {"field": "lab", "type": "nominal"}}},
               {"transform": [{"filter": "isValid(datum.x)"}], "mark": {"type": "rule", "color": "#222", "strokeWidth": 1.2}, "encoding": {"x": {"field": "x", "type": "quantitative", "axis": null}, "y": {"field": "y", "type": "quantitative", "axis": null}, "x2": {"field": "x2"}, "y2": {"field": "y2"}}},
               {"transform": [{"filter": "isValid(datum.x)"}, {"calculate": "atan2((datum.x2 - datum.x) * 4.79, (datum.y2 - datum.y) * 164) * 180 / PI", "as": "ang"}], "mark": {"type": "point", "shape": "M0,0L0.45,2L-0.45,2Z", "filled": true, "color": "#111", "size": 64, "opacity": 1}, "encoding": {"x": {"field": "x2", "type": "quantitative", "axis": null}, "y": {"field": "y2", "type": "quantitative", "axis": null}, "angle": {"field": "ang", "type": "quantitative", "scale": null}}}
             ]}
          ]
        },
        {
          "width": 519, "height": 64,
          "resolve": {"axis": {"y": "independent"}},
          "layer": [
            {"data": {"name": "ms"}, "transform": [{"filter": "datum.p === 'F6'"}],
             "mark": {"type": "rule", "strokeWidth": 3, "clip": true},
             "encoding": {
               "x": {"field": "mz", "type": "quantitative", "scale": {"domain": [17, 125.3], "nice": false, "zero": false}, "axis": {"values": [20,30,40,50,60,70,80,90,100,110,120], "labels": false, "ticks": false, "grid": true, "title": null}},
               "y": {"field": "v", "type": "quantitative", "scale": {"domain": [0, 0.383], "nice": false}, "axis": {"values": [0, 0.1, 0.2, 0.3], "format": ".1f", "title": null, "grid": true}},
               "y2": {"datum": 0},
               "color": {"field": "c", "type": "nominal", "scale": {"domain": ["CH","CHO1","CHO>1","CHN","CHO1N","CHO>1N","CS","HO","NH"], "range": ["#1f9a1f","#7a1a7a","#ff1fe6","#9b3be8","#2b6a8c","#3fb8f0","#1c1cc4","#000000","#f5a623"]}, "legend": null}
             }},
            {"data": {"values": [{}]},
             "mark": {"type": "text", "align": "right", "baseline": "middle", "dx": -4, "dy": 13, "fontWeight": "bold", "fontSize": 14},
             "encoding": {"x": {"datum": 125.3, "type": "quantitative"},
                          "y": {"datum": 0.383, "type": "quantitative", "axis": {"orient": "right", "values": [0, 0.1, 0.2, 0.3], "labels": false, "grid": false, "title": null}},
                          "text": {"value": "F6: Cattle feed 3"}}},
            {"data": {"name": "ann"}, "transform": [{"filter": "datum.p === 'F6'"}],
             "layer": [
               {"mark": {"type": "text", "fontSize": 13, "color": "#333"}, "encoding": {"x": {"field": "tx", "type": "quantitative", "axis": null}, "y": {"field": "ty", "type": "quantitative", "axis": null}, "text": {"field": "lab", "type": "nominal"}}},
               {"transform": [{"filter": "isValid(datum.x)"}], "mark": {"type": "rule", "color": "#222", "strokeWidth": 1.2}, "encoding": {"x": {"field": "x", "type": "quantitative", "axis": null}, "y": {"field": "y", "type": "quantitative", "axis": null}, "x2": {"field": "x2"}, "y2": {"field": "y2"}}},
               {"transform": [{"filter": "isValid(datum.x)"}, {"calculate": "atan2((datum.x2 - datum.x) * 4.79, (datum.y2 - datum.y) * 167) * 180 / PI", "as": "ang"}], "mark": {"type": "point", "shape": "M0,0L0.45,2L-0.45,2Z", "filled": true, "color": "#111", "size": 64, "opacity": 1}, "encoding": {"x": {"field": "x2", "type": "quantitative", "axis": null}, "y": {"field": "y2", "type": "quantitative", "axis": null}, "angle": {"field": "ang", "type": "quantitative", "scale": null}}}
             ]}
          ]
        },
        {
          "width": 519, "height": 64,
          "resolve": {"axis": {"y": "independent"}},
          "layer": [
            {"data": {"name": "ms"}, "transform": [{"filter": "datum.p === 'F5'"}],
             "mark": {"type": "rule", "strokeWidth": 3, "clip": true},
             "encoding": {
               "x": {"field": "mz", "type": "quantitative", "scale": {"domain": [17, 125.3], "nice": false, "zero": false}, "axis": {"values": [20,30,40,50,60,70,80,90,100,110,120], "labels": false, "ticks": false, "grid": true, "title": null}},
               "y": {"field": "v", "type": "quantitative", "scale": {"domain": [0, 0.278], "nice": false}, "axis": {"values": [0, 0.1, 0.2], "format": ".1f", "title": "Fractional Mass Contribution", "titleFontSize": 12, "titlePadding": 39, "titleY": 20, "grid": true}},
               "y2": {"datum": 0},
               "color": {"field": "c", "type": "nominal", "scale": {"domain": ["CH","CHO1","CHO>1","CHN","CHO1N","CHO>1N","CS","HO","NH"], "range": ["#1f9a1f","#7a1a7a","#ff1fe6","#9b3be8","#2b6a8c","#3fb8f0","#1c1cc4","#000000","#f5a623"]}, "legend": null}
             }},
            {"data": {"values": [{}]},
             "mark": {"type": "text", "align": "right", "baseline": "middle", "dx": -4, "dy": 13, "fontWeight": "bold", "fontSize": 14},
             "encoding": {"x": {"datum": 125.3, "type": "quantitative"},
                          "y": {"datum": 0.278, "type": "quantitative", "axis": {"orient": "right", "values": [0, 0.1, 0.2], "labels": false, "grid": false, "title": null}},
                          "text": {"value": "F5: Cattle feed 2"}}},
            {"data": {"name": "ann"}, "transform": [{"filter": "datum.p === 'F5'"}],
             "layer": [
               {"mark": {"type": "text", "fontSize": 13, "color": "#333"}, "encoding": {"x": {"field": "tx", "type": "quantitative", "axis": null}, "y": {"field": "ty", "type": "quantitative", "axis": null}, "text": {"field": "lab", "type": "nominal"}}},
               {"transform": [{"filter": "isValid(datum.x)"}], "mark": {"type": "rule", "color": "#222", "strokeWidth": 1.2}, "encoding": {"x": {"field": "x", "type": "quantitative", "axis": null}, "y": {"field": "y", "type": "quantitative", "axis": null}, "x2": {"field": "x2"}, "y2": {"field": "y2"}}},
               {"transform": [{"filter": "isValid(datum.x)"}, {"calculate": "atan2((datum.x2 - datum.x) * 4.79, (datum.y2 - datum.y) * 230) * 180 / PI", "as": "ang"}], "mark": {"type": "point", "shape": "M0,0L0.45,2L-0.45,2Z", "filled": true, "color": "#111", "size": 64, "opacity": 1}, "encoding": {"x": {"field": "x2", "type": "quantitative", "axis": null}, "y": {"field": "y2", "type": "quantitative", "axis": null}, "angle": {"field": "ang", "type": "quantitative", "scale": null}}}
             ]}
          ]
        },
        {
          "width": 519, "height": 64,
          "resolve": {"axis": {"y": "independent"}},
          "layer": [
            {"data": {"name": "ms"}, "transform": [{"filter": "datum.p === 'F4'"}],
             "mark": {"type": "rule", "strokeWidth": 3, "clip": true},
             "encoding": {
               "x": {"field": "mz", "type": "quantitative", "scale": {"domain": [17, 125.3], "nice": false, "zero": false}, "axis": {"values": [20,30,40,50,60,70,80,90,100,110,120], "labels": false, "ticks": false, "grid": true, "title": null}},
               "y": {"field": "v", "type": "quantitative", "scale": {"domain": [0, 0.292], "nice": false}, "axis": {"values": [0, 0.1, 0.2], "format": ".1f", "title": null, "grid": true}},
               "y2": {"datum": 0},
               "color": {"field": "c", "type": "nominal", "scale": {"domain": ["CH","CHO1","CHO>1","CHN","CHO1N","CHO>1N","CS","HO","NH"], "range": ["#1f9a1f","#7a1a7a","#ff1fe6","#9b3be8","#2b6a8c","#3fb8f0","#1c1cc4","#000000","#f5a623"]}, "legend": null}
             }},
            {"data": {"values": [{}]},
             "mark": {"type": "text", "align": "right", "baseline": "middle", "dx": -4, "dy": 13, "fontWeight": "bold", "fontSize": 14},
             "encoding": {"x": {"datum": 125.3, "type": "quantitative"},
                          "y": {"datum": 0.292, "type": "quantitative", "axis": {"orient": "right", "values": [0, 0.1, 0.2], "labels": false, "grid": false, "title": null}},
                          "text": {"value": "F4: Cattle feed 1"}}},
            {"data": {"name": "ann"}, "transform": [{"filter": "datum.p === 'F4'"}],
             "layer": [
               {"mark": {"type": "text", "fontSize": 13, "color": "#333"}, "encoding": {"x": {"field": "tx", "type": "quantitative", "axis": null}, "y": {"field": "ty", "type": "quantitative", "axis": null}, "text": {"field": "lab", "type": "nominal"}}},
               {"transform": [{"filter": "isValid(datum.x)"}], "mark": {"type": "rule", "color": "#222", "strokeWidth": 1.2}, "encoding": {"x": {"field": "x", "type": "quantitative", "axis": null}, "y": {"field": "y", "type": "quantitative", "axis": null}, "x2": {"field": "x2"}, "y2": {"field": "y2"}}},
               {"transform": [{"filter": "isValid(datum.x)"}, {"calculate": "atan2((datum.x2 - datum.x) * 4.79, (datum.y2 - datum.y) * 219) * 180 / PI", "as": "ang"}], "mark": {"type": "point", "shape": "M0,0L0.45,2L-0.45,2Z", "filled": true, "color": "#111", "size": 64, "opacity": 1}, "encoding": {"x": {"field": "x2", "type": "quantitative", "axis": null}, "y": {"field": "y2", "type": "quantitative", "axis": null}, "angle": {"field": "ang", "type": "quantitative", "scale": null}}}
             ]}
          ]
        },
        {
          "width": 519, "height": 63,
          "resolve": {"axis": {"y": "independent"}},
          "layer": [
            {"data": {"name": "ms"}, "transform": [{"filter": "datum.p === 'F3'"}],
             "mark": {"type": "rule", "strokeWidth": 3, "clip": true},
             "encoding": {
               "x": {"field": "mz", "type": "quantitative", "scale": {"domain": [17, 125.3], "nice": false, "zero": false}, "axis": {"values": [20,30,40,50,60,70,80,90,100,110,120], "labels": false, "ticks": false, "grid": true, "title": null}},
               "y": {"field": "v", "type": "quantitative", "scale": {"domain": [0, 0.98], "nice": false}, "axis": {"values": [0, 0.2, 0.4, 0.6, 0.8], "format": ".1f", "title": null, "grid": true}},
               "y2": {"datum": 0},
               "color": {"field": "c", "type": "nominal", "scale": {"domain": ["CH","CHO1","CHO>1","CHN","CHO1N","CHO>1N","CS","HO","NH"], "range": ["#1f9a1f","#7a1a7a","#ff1fe6","#9b3be8","#2b6a8c","#3fb8f0","#1c1cc4","#000000","#f5a623"]}, "legend": null}
             }},
            {"data": {"values": [{}]},
             "mark": {"type": "text", "align": "right", "baseline": "middle", "dx": -4, "dy": 13, "fontWeight": "bold", "fontSize": 14},
             "encoding": {"x": {"datum": 125.3, "type": "quantitative"},
                          "y": {"datum": 0.98, "type": "quantitative", "axis": {"orient": "right", "values": [0, 0.2, 0.4, 0.6, 0.8], "labels": false, "grid": false, "title": null}},
                          "text": {"value": "F3: Breath 3 (endogenous)"}}},
            {"data": {"name": "ann"}, "transform": [{"filter": "datum.p === 'F3'"}],
             "layer": [
               {"mark": {"type": "text", "fontSize": 13, "color": "#333"}, "encoding": {"x": {"field": "tx", "type": "quantitative", "axis": null}, "y": {"field": "ty", "type": "quantitative", "axis": null}, "text": {"field": "lab", "type": "nominal"}}},
               {"transform": [{"filter": "isValid(datum.x)"}], "mark": {"type": "rule", "color": "#222", "strokeWidth": 1.2}, "encoding": {"x": {"field": "x", "type": "quantitative", "axis": null}, "y": {"field": "y", "type": "quantitative", "axis": null}, "x2": {"field": "x2"}, "y2": {"field": "y2"}}},
               {"transform": [{"filter": "isValid(datum.x)"}, {"calculate": "atan2((datum.x2 - datum.x) * 4.79, (datum.y2 - datum.y) * 64.3) * 180 / PI", "as": "ang"}], "mark": {"type": "point", "shape": "M0,0L0.45,2L-0.45,2Z", "filled": true, "color": "#111", "size": 64, "opacity": 1}, "encoding": {"x": {"field": "x2", "type": "quantitative", "axis": null}, "y": {"field": "y2", "type": "quantitative", "axis": null}, "angle": {"field": "ang", "type": "quantitative", "scale": null}}}
             ]}
          ]
        },
        {
          "width": 519, "height": 63,
          "resolve": {"axis": {"y": "independent"}},
          "layer": [
            {"data": {"name": "ms"}, "transform": [{"filter": "datum.p === 'F2'"}],
             "mark": {"type": "rule", "strokeWidth": 3, "clip": true},
             "encoding": {
               "x": {"field": "mz", "type": "quantitative", "scale": {"domain": [17, 125.3], "nice": false, "zero": false}, "axis": {"values": [20,30,40,50,60,70,80,90,100,110,120], "labels": false, "ticks": false, "grid": true, "title": null}},
               "y": {"field": "v", "type": "quantitative", "scale": {"domain": [0, 0.48], "nice": false}, "axis": {"values": [0, 0.2, 0.4], "format": ".1f", "title": null, "grid": true}},
               "y2": {"datum": 0},
               "color": {"field": "c", "type": "nominal", "scale": {"domain": ["CH","CHO1","CHO>1","CHN","CHO1N","CHO>1N","CS","HO","NH"], "range": ["#1f9a1f","#7a1a7a","#ff1fe6","#9b3be8","#2b6a8c","#3fb8f0","#1c1cc4","#000000","#f5a623"]}, "legend": null}
             }},
            {"data": {"values": [{}]},
             "mark": {"type": "text", "align": "right", "baseline": "middle", "dx": -4, "dy": 13, "fontWeight": "bold", "fontSize": 14},
             "encoding": {"x": {"datum": 125.3, "type": "quantitative"},
                          "y": {"datum": 0.48, "type": "quantitative", "axis": {"orient": "right", "values": [0, 0.2, 0.4], "labels": false, "grid": false, "title": null}},
                          "text": {"value": "F2: Breath 2  (rumen)"}}},
            {"data": {"name": "ann"}, "transform": [{"filter": "datum.p === 'F2'"}],
             "layer": [
               {"mark": {"type": "text", "fontSize": 13, "color": "#333"}, "encoding": {"x": {"field": "tx", "type": "quantitative", "axis": null}, "y": {"field": "ty", "type": "quantitative", "axis": null}, "text": {"field": "lab", "type": "nominal"}}},
               {"transform": [{"filter": "isValid(datum.x)"}], "mark": {"type": "rule", "color": "#222", "strokeWidth": 1.2}, "encoding": {"x": {"field": "x", "type": "quantitative", "axis": null}, "y": {"field": "y", "type": "quantitative", "axis": null}, "x2": {"field": "x2"}, "y2": {"field": "y2"}}},
               {"transform": [{"filter": "isValid(datum.x)"}, {"calculate": "atan2((datum.x2 - datum.x) * 4.79, (datum.y2 - datum.y) * 131) * 180 / PI", "as": "ang"}], "mark": {"type": "point", "shape": "M0,0L0.45,2L-0.45,2Z", "filled": true, "color": "#111", "size": 64, "opacity": 1}, "encoding": {"x": {"field": "x2", "type": "quantitative", "axis": null}, "y": {"field": "y2", "type": "quantitative", "axis": null}, "angle": {"field": "ang", "type": "quantitative", "scale": null}}}
             ]}
          ]
        },
        {
          "width": 519, "height": 64,
          "resolve": {"axis": {"y": "independent"}},
          "layer": [
            {"data": {"name": "ms"}, "transform": [{"filter": "datum.p === 'F1'"}],
             "mark": {"type": "rule", "strokeWidth": 3, "clip": true},
             "encoding": {
               "x": {"field": "mz", "type": "quantitative", "scale": {"domain": [17, 125.3], "nice": false, "zero": false}, "axis": {"values": [20,30,40,50,60,70,80,90,100,110,120], "labels": false, "ticks": false, "grid": true, "title": null}},
               "y": {"field": "v", "type": "quantitative", "scale": {"domain": [0, 0.53], "nice": false}, "axis": {"values": [0, 0.2, 0.4], "format": ".1f", "title": null, "grid": true}},
               "y2": {"datum": 0},
               "color": {"field": "c", "type": "nominal", "scale": {"domain": ["CH","CHO1","CHO>1","CHN","CHO1N","CHO>1N","CS","HO","NH"], "range": ["#1f9a1f","#7a1a7a","#ff1fe6","#9b3be8","#2b6a8c","#3fb8f0","#1c1cc4","#000000","#f5a623"]}, "legend": null}
             }},
            {"data": {"values": [{}]},
             "mark": {"type": "text", "align": "right", "baseline": "middle", "dx": -4, "dy": 13, "fontWeight": "bold", "fontSize": 14},
             "encoding": {"x": {"datum": 125.3, "type": "quantitative"},
                          "y": {"datum": 0.53, "type": "quantitative", "axis": {"orient": "right", "values": [0, 0.2, 0.4], "labels": false, "grid": false, "title": null}},
                          "text": {"value": "F1: Breath 1 (exogenous)"}}},
            {"data": {"name": "ann"}, "transform": [{"filter": "datum.p === 'F1'"}],
             "layer": [
               {"mark": {"type": "text", "fontSize": 13, "color": "#333"}, "encoding": {"x": {"field": "tx", "type": "quantitative", "axis": null}, "y": {"field": "ty", "type": "quantitative", "axis": null}, "text": {"field": "lab", "type": "nominal"}}},
               {"transform": [{"filter": "isValid(datum.x)"}], "mark": {"type": "rule", "color": "#222", "strokeWidth": 1.2}, "encoding": {"x": {"field": "x", "type": "quantitative", "axis": null}, "y": {"field": "y", "type": "quantitative", "axis": null}, "x2": {"field": "x2"}, "y2": {"field": "y2"}}},
               {"transform": [{"filter": "isValid(datum.x)"}, {"calculate": "atan2((datum.x2 - datum.x) * 4.79, (datum.y2 - datum.y) * 121) * 180 / PI", "as": "ang"}], "mark": {"type": "point", "shape": "M0,0L0.45,2L-0.45,2Z", "filled": true, "color": "#111", "size": 64, "opacity": 1}, "encoding": {"x": {"field": "x2", "type": "quantitative", "axis": null}, "y": {"field": "y2", "type": "quantitative", "axis": null}, "angle": {"field": "ang", "type": "quantitative", "scale": null}}}
             ]}
          ]
        },
        {
          "width": 519, "height": 60,
          "resolve": {"axis": {"x": "independent", "y": "independent"}},
          "layer": [
            {"data": {"name": "ms"}, "transform": [{"filter": "datum.p === 'E'"}],
             "mark": {"type": "rule", "strokeWidth": 3, "clip": true},
             "encoding": {
               "x": {"field": "mz", "type": "quantitative", "scale": {"domain": [17, 125.3], "nice": false, "zero": false},
                     "axis": {"orient": "bottom", "values": [20,30,40,50,60,70,80,90,100,110,120], "format": "d", "labelPadding": 9, "tickSize": 14,
                              "title": "mass-to-charge [m/z]", "titlePadding": 5, "grid": true}},
               "y": {"field": "v", "type": "quantitative", "scale": {"domain": [0, 1480000], "nice": false}, "axis": {"values": [0, 500000, 1000000], "labelExpr": "datum.value >= 1000000 ? '1.0 x10⁶' : format(datum.value / 1000000, '.1f')", "title": null, "grid": true}},
               "y2": {"datum": 0},
               "color": {"field": "c", "type": "nominal", "scale": {"domain": ["CH","CHO1","CHO>1","CHN","CHO1N","CHO>1N","CS","HO","NH"], "range": ["#1f9a1f","#7a1a7a","#ff1fe6","#9b3be8","#2b6a8c","#3fb8f0","#1c1cc4","#000000","#f5a623"]}, "legend": null}
             }},
            {"data": {"values": [{}]},
             "mark": {"type": "text", "align": "right", "baseline": "middle", "dx": -4, "dy": 15, "fontWeight": "bold", "fontSize": 14},
             "encoding": {"x": {"datum": 125.3, "type": "quantitative", "axis": {"orient": "bottom", "values": [17,18,19,20,21,22,23,24,25,26,27,28,29,30,31,32,33,34,35,36,37,38,39,40,41,42,43,44,45,46,47,48,49,50,51,52,53,54,55,56,57,58,59,60,61,62,63,64,65,66,67,68,69,70,71,72,73,74,75,76,77,78,79,80,81,82,83,84,85,86,87,88,89,90,91,92,93,94,95,96,97,98,99,100,101,102,103,104,105,106,107,108,109,110,111,112,113,114,115,116,117,118,119,120,121,122,123,124,125], "labels": false, "title": null, "grid": false, "tickSize": 8, "tickWidth": 1}},
                          "y": {"datum": 1480000, "type": "quantitative", "axis": {"orient": "right", "values": [0, 500000, 1000000], "labels": false, "grid": false, "title": null}},
                          "text": {"value": "E: Residuals"}}}
          ]
        }
      ]
    },
    {
      "spacing": 0,
      "bounds": "flush",
      "resolve": {"scale": {"x": "independent", "y": "independent"}},
      "title": {"text": "(b)", "orient": "bottom", "anchor": "start", "fontSize": 18, "fontWeight": "bold", "font": "Liberation Sans", "dx": 82, "offset": 4},
      "vconcat": [
        {
          "width": 445, "height": 71,
          "resolve": {"axis": {"y": "independent"}},
          "layer": [
            {"data": {"name": "ts"}, "mark": {"type": "line", "color": "#ffa500", "strokeWidth": 1.4, "clip": true},
             "encoding": {
               "x": {"field": "t", "type": "temporal", "scale": {"domain": [{"year":2020,"month":11,"date":13,"hours":10,"minutes":15},{"year":2020,"month":11,"date":15,"hours":21,"minutes":53}]},
                     "axis": {"orient": "top", "values": [{"year":2020,"month":11,"date":13,"hours":12},{"year":2020,"month":11,"date":14,"hours":0},{"year":2020,"month":11,"date":14,"hours":12},{"year":2020,"month":11,"date":15,"hours":0},{"year":2020,"month":11,"date":15,"hours":12}], "labels": false, "grid": true, "title": null, "tickSize": 10}},
               "y": {"field": "G10", "type": "quantitative", "scale": {"domain": [0, 175], "nice": false},
                     "axis": {"orient": "left", "values": [0,50,100,150], "format": "d", "grid": true, "title": null}}
             }},
            {"data": {"name": "spk"}, "transform": [{"filter": "datum.s === 'G10'"}], "mark": {"type": "rule", "color": "#ffa500", "strokeWidth": 1, "clip": true},
             "encoding": {"x": {"field": "t", "type": "temporal"}, "y": {"field": "v", "type": "quantitative", "axis": {"orient": "left", "values": [25,75,125], "labels": false, "tickSize": 5, "grid": true, "gridOpacity": 0.5, "title": null}}, "y2": {"datum": 0}}},
            {"data": {"values": [{}]}, "mark": {"type": "text", "align": "right", "baseline": "middle", "dx": -9, "dy": 12, "fontWeight": "bold", "fontSize": 14},
             "encoding": {"x": {"datum": {"year":2020,"month":11,"date":15,"hours":21,"minutes":53}, "type": "temporal"}, "y": {"datum": 175, "type": "quantitative", "axis": null}, "text": {"value": "G10: Oxidised urine / faeces"}}}
          ]
        },
        {
          "width": 445, "height": 62,
          "resolve": {"axis": {"y": "independent"}},
          "layer": [
            {"data": {"name": "ts"}, "mark": {"type": "line", "color": "#8b1fe6", "strokeWidth": 1.4, "clip": true},
             "encoding": {
               "x": {"field": "t", "type": "temporal", "scale": {"domain": [{"year":2020,"month":11,"date":13,"hours":10,"minutes":15},{"year":2020,"month":11,"date":15,"hours":21,"minutes":53}]},
                     "axis": {"values": [{"year":2020,"month":11,"date":13,"hours":12},{"year":2020,"month":11,"date":14,"hours":0},{"year":2020,"month":11,"date":14,"hours":12},{"year":2020,"month":11,"date":15,"hours":0},{"year":2020,"month":11,"date":15,"hours":12}], "labels": false, "ticks": false, "grid": true, "title": null}},
               "y": {"field": "G9", "type": "quantitative", "scale": {"domain": [0, 187], "nice": false},
                     "axis": {"orient": "left", "values": [0,50,100,150], "format": "d", "grid": true, "title": null}}
             }},
            {"data": {"name": "spk"}, "transform": [{"filter": "datum.s === 'G9'"}], "mark": {"type": "rule", "color": "#8b1fe6", "strokeWidth": 1, "clip": true},
             "encoding": {"x": {"field": "t", "type": "temporal"}, "y": {"field": "v", "type": "quantitative", "axis": {"orient": "left", "values": [25,75,125,175], "labels": false, "tickSize": 5, "grid": true, "gridOpacity": 0.5, "title": null}}, "y2": {"datum": 0}}},
            {"data": {"values": [{}]}, "mark": {"type": "text", "align": "right", "baseline": "middle", "dx": -9, "dy": 12, "fontWeight": "bold", "fontSize": 14},
             "encoding": {"x": {"datum": {"year":2020,"month":11,"date":15,"hours":21,"minutes":53}, "type": "temporal"}, "y": {"datum": 187, "type": "quantitative", "axis": null}, "text": {"value": "G9: Urine / faeces"}}}
          ]
        },
        {
          "width": 445, "height": 64,
          "resolve": {"axis": {"y": "independent"}},
          "layer": [
            {"data": {"name": "ts"}, "mark": {"type": "line", "color": "#a6a012", "strokeWidth": 1.4, "clip": true},
             "encoding": {
               "x": {"field": "t", "type": "temporal", "scale": {"domain": [{"year":2020,"month":11,"date":13,"hours":10,"minutes":15},{"year":2020,"month":11,"date":15,"hours":21,"minutes":53}]},
                     "axis": {"values": [{"year":2020,"month":11,"date":13,"hours":12},{"year":2020,"month":11,"date":14,"hours":0},{"year":2020,"month":11,"date":14,"hours":12},{"year":2020,"month":11,"date":15,"hours":0},{"year":2020,"month":11,"date":15,"hours":12}], "labels": false, "ticks": false, "grid": true, "title": null}},
               "y": {"field": "G8", "type": "quantitative", "scale": {"domain": [0, 300], "nice": false},
                     "axis": {"orient": "left", "values": [0,100,200], "format": "d", "grid": true, "title": null}}
             }},
            {"data": {"name": "spk"}, "transform": [{"filter": "datum.s === 'G8'"}], "mark": {"type": "rule", "color": "#a6a012", "strokeWidth": 1, "clip": true},
             "encoding": {"x": {"field": "t", "type": "temporal"}, "y": {"field": "v", "type": "quantitative", "axis": {"orient": "left", "values": [50,150,250], "labels": false, "tickSize": 5, "grid": true, "gridOpacity": 0.5, "title": null}}, "y2": {"datum": 0}}},
            {"data": {"values": [{}]}, "mark": {"type": "text", "align": "right", "baseline": "middle", "dx": -14, "dy": 13, "fontWeight": "bold", "fontSize": 14},
             "encoding": {"x": {"datum": {"year":2020,"month":11,"date":15,"hours":21,"minutes":53}, "type": "temporal"}, "y": {"datum": 300, "type": "quantitative", "axis": null}, "text": {"value": "G8: Straw"}}}
          ]
        },
        {
          "width": 445, "height": 63,
          "resolve": {"axis": {"y": "independent"}},
          "layer": [
            {"data": {"name": "ts"}, "mark": {"type": "line", "color": "#8c8c8c", "strokeWidth": 1.2, "clip": true},
             "encoding": {
               "x": {"field": "t", "type": "temporal", "scale": {"domain": [{"year":2020,"month":11,"date":13,"hours":10,"minutes":15},{"year":2020,"month":11,"date":15,"hours":21,"minutes":53}]},
                     "axis": {"values": [{"year":2020,"month":11,"date":13,"hours":12},{"year":2020,"month":11,"date":14,"hours":0},{"year":2020,"month":11,"date":14,"hours":12},{"year":2020,"month":11,"date":15,"hours":0},{"year":2020,"month":11,"date":15,"hours":12}], "labels": false, "ticks": false, "grid": true, "title": null}},
               "y": {"field": "G7", "type": "quantitative", "scale": {"domain": [0, 1180], "nice": false},
                     "axis": {"orient": "left", "values": [0,500,1000], "format": "d", "grid": true, "title": null}}
             }},
            {"data": {"name": "spk"}, "transform": [{"filter": "datum.s === 'G7'"}], "mark": {"type": "rule", "color": "#8c8c8c", "strokeWidth": 1, "clip": true},
             "encoding": {"x": {"field": "t", "type": "temporal"}, "y": {"field": "v", "type": "quantitative", "axis": {"orient": "left", "values": [250,750], "labels": false, "tickSize": 5, "grid": true, "gridOpacity": 0.5, "title": null}}, "y2": {"datum": 0}}},
            {"data": {"values": [{}]}, "mark": {"type": "text", "align": "right", "baseline": "middle", "dx": -6, "dy": 15, "fontWeight": "bold", "fontSize": 14},
             "encoding": {"x": {"datum": {"year":2020,"month":11,"date":15,"hours":21,"minutes":53}, "type": "temporal"}, "y": {"datum": 1180, "type": "quantitative", "axis": null}, "text": {"value": "G7: Farm traffic"}}}
          ]
        },
        {
          "width": 445, "height": 64,
          "resolve": {"axis": {"y": "independent"}},
          "layer": [
            {"data": {"name": "ts"}, "mark": {"type": "line", "color": "#a51212", "strokeWidth": 1.2, "clip": true},
             "encoding": {
               "x": {"field": "t", "type": "temporal", "scale": {"domain": [{"year":2020,"month":11,"date":13,"hours":10,"minutes":15},{"year":2020,"month":11,"date":15,"hours":21,"minutes":53}]},
                     "axis": {"values": [{"year":2020,"month":11,"date":13,"hours":12},{"year":2020,"month":11,"date":14,"hours":0},{"year":2020,"month":11,"date":14,"hours":12},{"year":2020,"month":11,"date":15,"hours":0},{"year":2020,"month":11,"date":15,"hours":12}], "labels": false, "ticks": false, "grid": true, "title": null}},
               "y": {"field": "G6", "type": "quantitative", "scale": {"domain": [0, 360], "nice": false},
                     "axis": {"orient": "left", "values": [0,100,200,300], "format": "d", "grid": true, "title": null}}
             }},
            {"data": {"name": "spk"}, "transform": [{"filter": "datum.s === 'G6'"}], "mark": {"type": "rule", "color": "#a51212", "strokeWidth": 1, "clip": true},
             "encoding": {"x": {"field": "t", "type": "temporal"}, "y": {"field": "v", "type": "quantitative", "axis": {"orient": "left", "values": [50,150,250,350], "labels": false, "tickSize": 5, "grid": true, "gridOpacity": 0.5, "title": null}}, "y2": {"datum": 0}}},
            {"data": {"values": [{}]}, "mark": {"type": "text", "align": "right", "baseline": "middle", "dx": -9, "dy": 8, "fontWeight": "bold", "fontSize": 14},
             "encoding": {"x": {"datum": {"year":2020,"month":11,"date":15,"hours":21,"minutes":53}, "type": "temporal"}, "y": {"datum": 360, "type": "quantitative", "axis": null}, "text": {"value": "G6: Cattle feed 3"}}}
          ]
        },
        {
          "width": 445, "height": 64,
          "resolve": {"axis": {"y": "independent"}},
          "layer": [
            {"data": {"name": "ts"}, "mark": {"type": "line", "color": "#b8862b", "strokeWidth": 1.2, "clip": true},
             "encoding": {
               "x": {"field": "t", "type": "temporal", "scale": {"domain": [{"year":2020,"month":11,"date":13,"hours":10,"minutes":15},{"year":2020,"month":11,"date":15,"hours":21,"minutes":53}]},
                     "axis": {"values": [{"year":2020,"month":11,"date":13,"hours":12},{"year":2020,"month":11,"date":14,"hours":0},{"year":2020,"month":11,"date":14,"hours":12},{"year":2020,"month":11,"date":15,"hours":0},{"year":2020,"month":11,"date":15,"hours":12}], "labels": false, "ticks": false, "grid": true, "title": null}},
               "y": {"field": "G5", "type": "quantitative", "scale": {"domain": [0, 1530], "nice": false},
                     "axis": {"orient": "left", "values": [0,400,800,1200], "format": "d", "grid": true,
                              "title": "Mass [ncps]", "titlePadding": 21, "titleY": 0}}
             }},
            {"data": {"name": "spk"}, "transform": [{"filter": "datum.s === 'G5'"}], "mark": {"type": "rule", "color": "#b8862b", "strokeWidth": 1, "clip": true},
             "encoding": {"x": {"field": "t", "type": "temporal"}, "y": {"field": "v", "type": "quantitative", "axis": {"orient": "left", "values": [200,600,1000,1400], "labels": false, "tickSize": 5, "grid": true, "gridOpacity": 0.5, "title": null}}, "y2": {"datum": 0}}},
            {"data": {"values": [{}]}, "mark": {"type": "text", "align": "right", "baseline": "middle", "dx": -8, "dy": 12, "fontWeight": "bold", "fontSize": 14},
             "encoding": {"x": {"datum": {"year":2020,"month":11,"date":15,"hours":21,"minutes":53}, "type": "temporal"}, "y": {"datum": 1530, "type": "quantitative", "axis": null}, "text": {"value": "G5: Cattle feed 2"}}}
          ]
        },
        {
          "width": 445, "height": 62,
          "resolve": {"axis": {"y": "independent"}},
          "layer": [
            {"data": {"name": "ts"}, "mark": {"type": "line", "color": "#159615", "strokeWidth": 1.2, "clip": true},
             "encoding": {
               "x": {"field": "t", "type": "temporal", "scale": {"domain": [{"year":2020,"month":11,"date":13,"hours":10,"minutes":15},{"year":2020,"month":11,"date":15,"hours":21,"minutes":53}]},
                     "axis": {"values": [{"year":2020,"month":11,"date":13,"hours":12},{"year":2020,"month":11,"date":14,"hours":0},{"year":2020,"month":11,"date":14,"hours":12},{"year":2020,"month":11,"date":15,"hours":0},{"year":2020,"month":11,"date":15,"hours":12}], "labels": false, "ticks": false, "grid": true, "title": null}},
               "y": {"field": "G4", "type": "quantitative", "scale": {"domain": [0, 3740], "nice": false},
                     "axis": {"orient": "left", "values": [0,1000,2000,3000], "format": "d", "grid": true, "title": null}}
             }},
            {"data": {"name": "spk"}, "transform": [{"filter": "datum.s === 'G4'"}], "mark": {"type": "rule", "color": "#159615", "strokeWidth": 1, "clip": true},
             "encoding": {"x": {"field": "t", "type": "temporal"}, "y": {"field": "v", "type": "quantitative", "axis": {"orient": "left", "values": [500,1500,2500,3500], "labels": false, "tickSize": 5, "grid": true, "gridOpacity": 0.5, "title": null}}, "y2": {"datum": 0}}},
            {"data": {"values": [{}]}, "mark": {"type": "text", "align": "right", "baseline": "middle", "dx": -6, "dy": 12, "fontWeight": "bold", "fontSize": 14},
             "encoding": {"x": {"datum": {"year":2020,"month":11,"date":15,"hours":21,"minutes":53}, "type": "temporal"}, "y": {"datum": 3740, "type": "quantitative", "axis": null}, "text": {"value": "G4: Cattle feed 1"}}}
          ]
        },
        {
          "width": 445, "height": 64,
          "resolve": {"axis": {"y": "independent"}},
          "layer": [
            {"data": {"name": "ts"}, "mark": {"type": "line", "color": "#3ce8ea", "strokeWidth": 1.2, "clip": true},
             "encoding": {
               "x": {"field": "t", "type": "temporal", "scale": {"domain": [{"year":2020,"month":11,"date":13,"hours":10,"minutes":15},{"year":2020,"month":11,"date":15,"hours":21,"minutes":53}]},
                     "axis": {"values": [{"year":2020,"month":11,"date":13,"hours":12},{"year":2020,"month":11,"date":14,"hours":0},{"year":2020,"month":11,"date":14,"hours":12},{"year":2020,"month":11,"date":15,"hours":0},{"year":2020,"month":11,"date":15,"hours":12}], "labels": false, "ticks": false, "grid": true, "title": null}},
               "y": {"field": "G3", "type": "quantitative", "scale": {"domain": [0, 1930], "nice": false},
                     "axis": {"orient": "left", "values": [0,500,1000,1500], "format": "d", "grid": true, "title": null}}
             }},
            {"data": {"name": "spk"}, "transform": [{"filter": "datum.s === 'G3'"}], "mark": {"type": "rule", "color": "#3ce8ea", "strokeWidth": 1, "clip": true},
             "encoding": {"x": {"field": "t", "type": "temporal"}, "y": {"field": "v", "type": "quantitative", "axis": {"orient": "left", "values": [250,750,1250,1750], "labels": false, "tickSize": 5, "grid": true, "gridOpacity": 0.5, "title": null}}, "y2": {"datum": 0}}},
            {"data": {"values": [{}]}, "mark": {"type": "text", "align": "right", "baseline": "middle", "dx": -9, "dy": 13, "fontWeight": "bold", "fontSize": 14},
             "encoding": {"x": {"datum": {"year":2020,"month":11,"date":15,"hours":21,"minutes":53}, "type": "temporal"}, "y": {"datum": 1930, "type": "quantitative", "axis": null}, "text": {"value": "G3: Breath 3"}}}
          ]
        },
        {
          "width": 445, "height": 64,
          "resolve": {"axis": {"y": "independent"}},
          "layer": [
            {"data": {"name": "ts"}, "mark": {"type": "line", "color": "#38a8ee", "strokeWidth": 1.2, "clip": true},
             "encoding": {
               "x": {"field": "t", "type": "temporal", "scale": {"domain": [{"year":2020,"month":11,"date":13,"hours":10,"minutes":15},{"year":2020,"month":11,"date":15,"hours":21,"minutes":53}]},
                     "axis": {"values": [{"year":2020,"month":11,"date":13,"hours":12},{"year":2020,"month":11,"date":14,"hours":0},{"year":2020,"month":11,"date":14,"hours":12},{"year":2020,"month":11,"date":15,"hours":0},{"year":2020,"month":11,"date":15,"hours":12}], "labels": false, "ticks": false, "grid": true, "title": null}},
               "y": {"field": "G2", "type": "quantitative", "scale": {"domain": [0, 1870], "nice": false},
                     "axis": {"orient": "left", "values": [0,500,1000,1500], "format": "d", "grid": true, "title": null}}
             }},
            {"data": {"name": "spk"}, "transform": [{"filter": "datum.s === 'G2'"}], "mark": {"type": "rule", "color": "#38a8ee", "strokeWidth": 1, "clip": true},
             "encoding": {"x": {"field": "t", "type": "temporal"}, "y": {"field": "v", "type": "quantitative", "axis": {"orient": "left", "values": [250,750,1250,1750], "labels": false, "tickSize": 5, "grid": true, "gridOpacity": 0.5, "title": null}}, "y2": {"datum": 0}}},
            {"data": {"values": [{}]}, "mark": {"type": "text", "align": "right", "baseline": "middle", "dx": -9, "dy": 12, "fontWeight": "bold", "fontSize": 14},
             "encoding": {"x": {"datum": {"year":2020,"month":11,"date":15,"hours":21,"minutes":53}, "type": "temporal"}, "y": {"datum": 1870, "type": "quantitative", "axis": null}, "text": {"value": "G2: Breath 2"}}}
          ]
        },
        {
          "width": 445, "height": 63,
          "resolve": {"axis": {"y": "independent"}},
          "layer": [
            {"data": {"name": "ts"}, "mark": {"type": "line", "color": "#1f1fa8", "strokeWidth": 1.2, "clip": true},
             "encoding": {
               "x": {"field": "t", "type": "temporal", "scale": {"domain": [{"year":2020,"month":11,"date":13,"hours":10,"minutes":15},{"year":2020,"month":11,"date":15,"hours":21,"minutes":53}]},
                     "axis": {"values": [{"year":2020,"month":11,"date":13,"hours":12},{"year":2020,"month":11,"date":14,"hours":0},{"year":2020,"month":11,"date":14,"hours":12},{"year":2020,"month":11,"date":15,"hours":0},{"year":2020,"month":11,"date":15,"hours":12}], "labels": false, "ticks": false, "grid": true, "title": null}},
               "y": {"field": "G1", "type": "quantitative", "scale": {"domain": [0, 3730], "nice": false},
                     "axis": {"orient": "left", "values": [0,1000,2000,3000], "format": "d", "grid": true, "title": null}}
             }},
            {"data": {"name": "spk"}, "transform": [{"filter": "datum.s === 'G1'"}], "mark": {"type": "rule", "color": "#1f1fa8", "strokeWidth": 1, "clip": true},
             "encoding": {"x": {"field": "t", "type": "temporal"}, "y": {"field": "v", "type": "quantitative", "axis": {"orient": "left", "values": [500,1500,2500,3500], "labels": false, "tickSize": 5, "grid": true, "gridOpacity": 0.5, "title": null}}, "y2": {"datum": 0}}},
            {"data": {"values": [{}]}, "mark": {"type": "text", "align": "right", "baseline": "middle", "dx": -9, "dy": 12, "fontWeight": "bold", "fontSize": 14},
             "encoding": {"x": {"datum": {"year":2020,"month":11,"date":15,"hours":21,"minutes":53}, "type": "temporal"}, "y": {"datum": 3730, "type": "quantitative", "axis": null}, "text": {"value": "G1: Breath 1"}}}
          ]
        },
        {
          "width": 445, "height": 63,
          "resolve": {"axis": {"y": "independent"}},
          "layer": [
            {"data": {"name": "ts"}, "mark": {"type": "line", "color": "#ff2bd0", "strokeWidth": 1.2, "clip": true},
             "encoding": {
               "x": {"field": "t", "type": "temporal", "scale": {"domain": [{"year":2020,"month":11,"date":13,"hours":10,"minutes":15},{"year":2020,"month":11,"date":15,"hours":21,"minutes":53}]},
                     "axis": {"values": [{"year":2020,"month":11,"date":13,"hours":12},{"year":2020,"month":11,"date":14,"hours":0},{"year":2020,"month":11,"date":14,"hours":12},{"year":2020,"month":11,"date":15,"hours":0},{"year":2020,"month":11,"date":15,"hours":12}],
                              "labelExpr": "hours(datum.value) === 0 || date(datum.value) === 13 ? [timeFormat(datum.value, '%H:%M'), timeFormat(datum.value, '%d/%m/%Y')] : timeFormat(datum.value, '%H:%M')",
                              "labelPadding": 6, "labelLineHeight": 17, "labelBaseline": "top", "tickSize": 10, "grid": true, "title": "Date & Time [Local]", "titlePadding": 4}},
               "y": {"field": "R", "type": "quantitative", "scale": {"domain": [0, 155], "nice": false},
                     "axis": {"orient": "left", "values": [0,40,80,120], "format": "d", "grid": true, "title": null}}
             }},
            {"data": {"name": "spk"}, "transform": [{"filter": "datum.s === 'R'"}], "mark": {"type": "rule", "color": "#ff2bd0", "strokeWidth": 1, "clip": true},
             "encoding": {"x": {"field": "t", "type": "temporal"}, "y": {"field": "v", "type": "quantitative", "axis": {"orient": "left", "values": [20,60,100,140], "labels": false, "tickSize": 5, "grid": true, "gridOpacity": 0.5, "title": null}}, "y2": {"datum": 0}}},
            {"data": {"values": [{}]}, "mark": {"type": "text", "align": "right", "baseline": "middle", "dx": -12, "dy": 15, "fontWeight": "bold", "fontSize": 14},
             "encoding": {"x": {"datum": {"year":2020,"month":11,"date":15,"hours":21,"minutes":53}, "type": "temporal"}, "y": {"datum": 155, "type": "quantitative", "axis": null}, "text": {"value": "Residuals"}}}
          ]
        }
      ]
    }
  ]
}
